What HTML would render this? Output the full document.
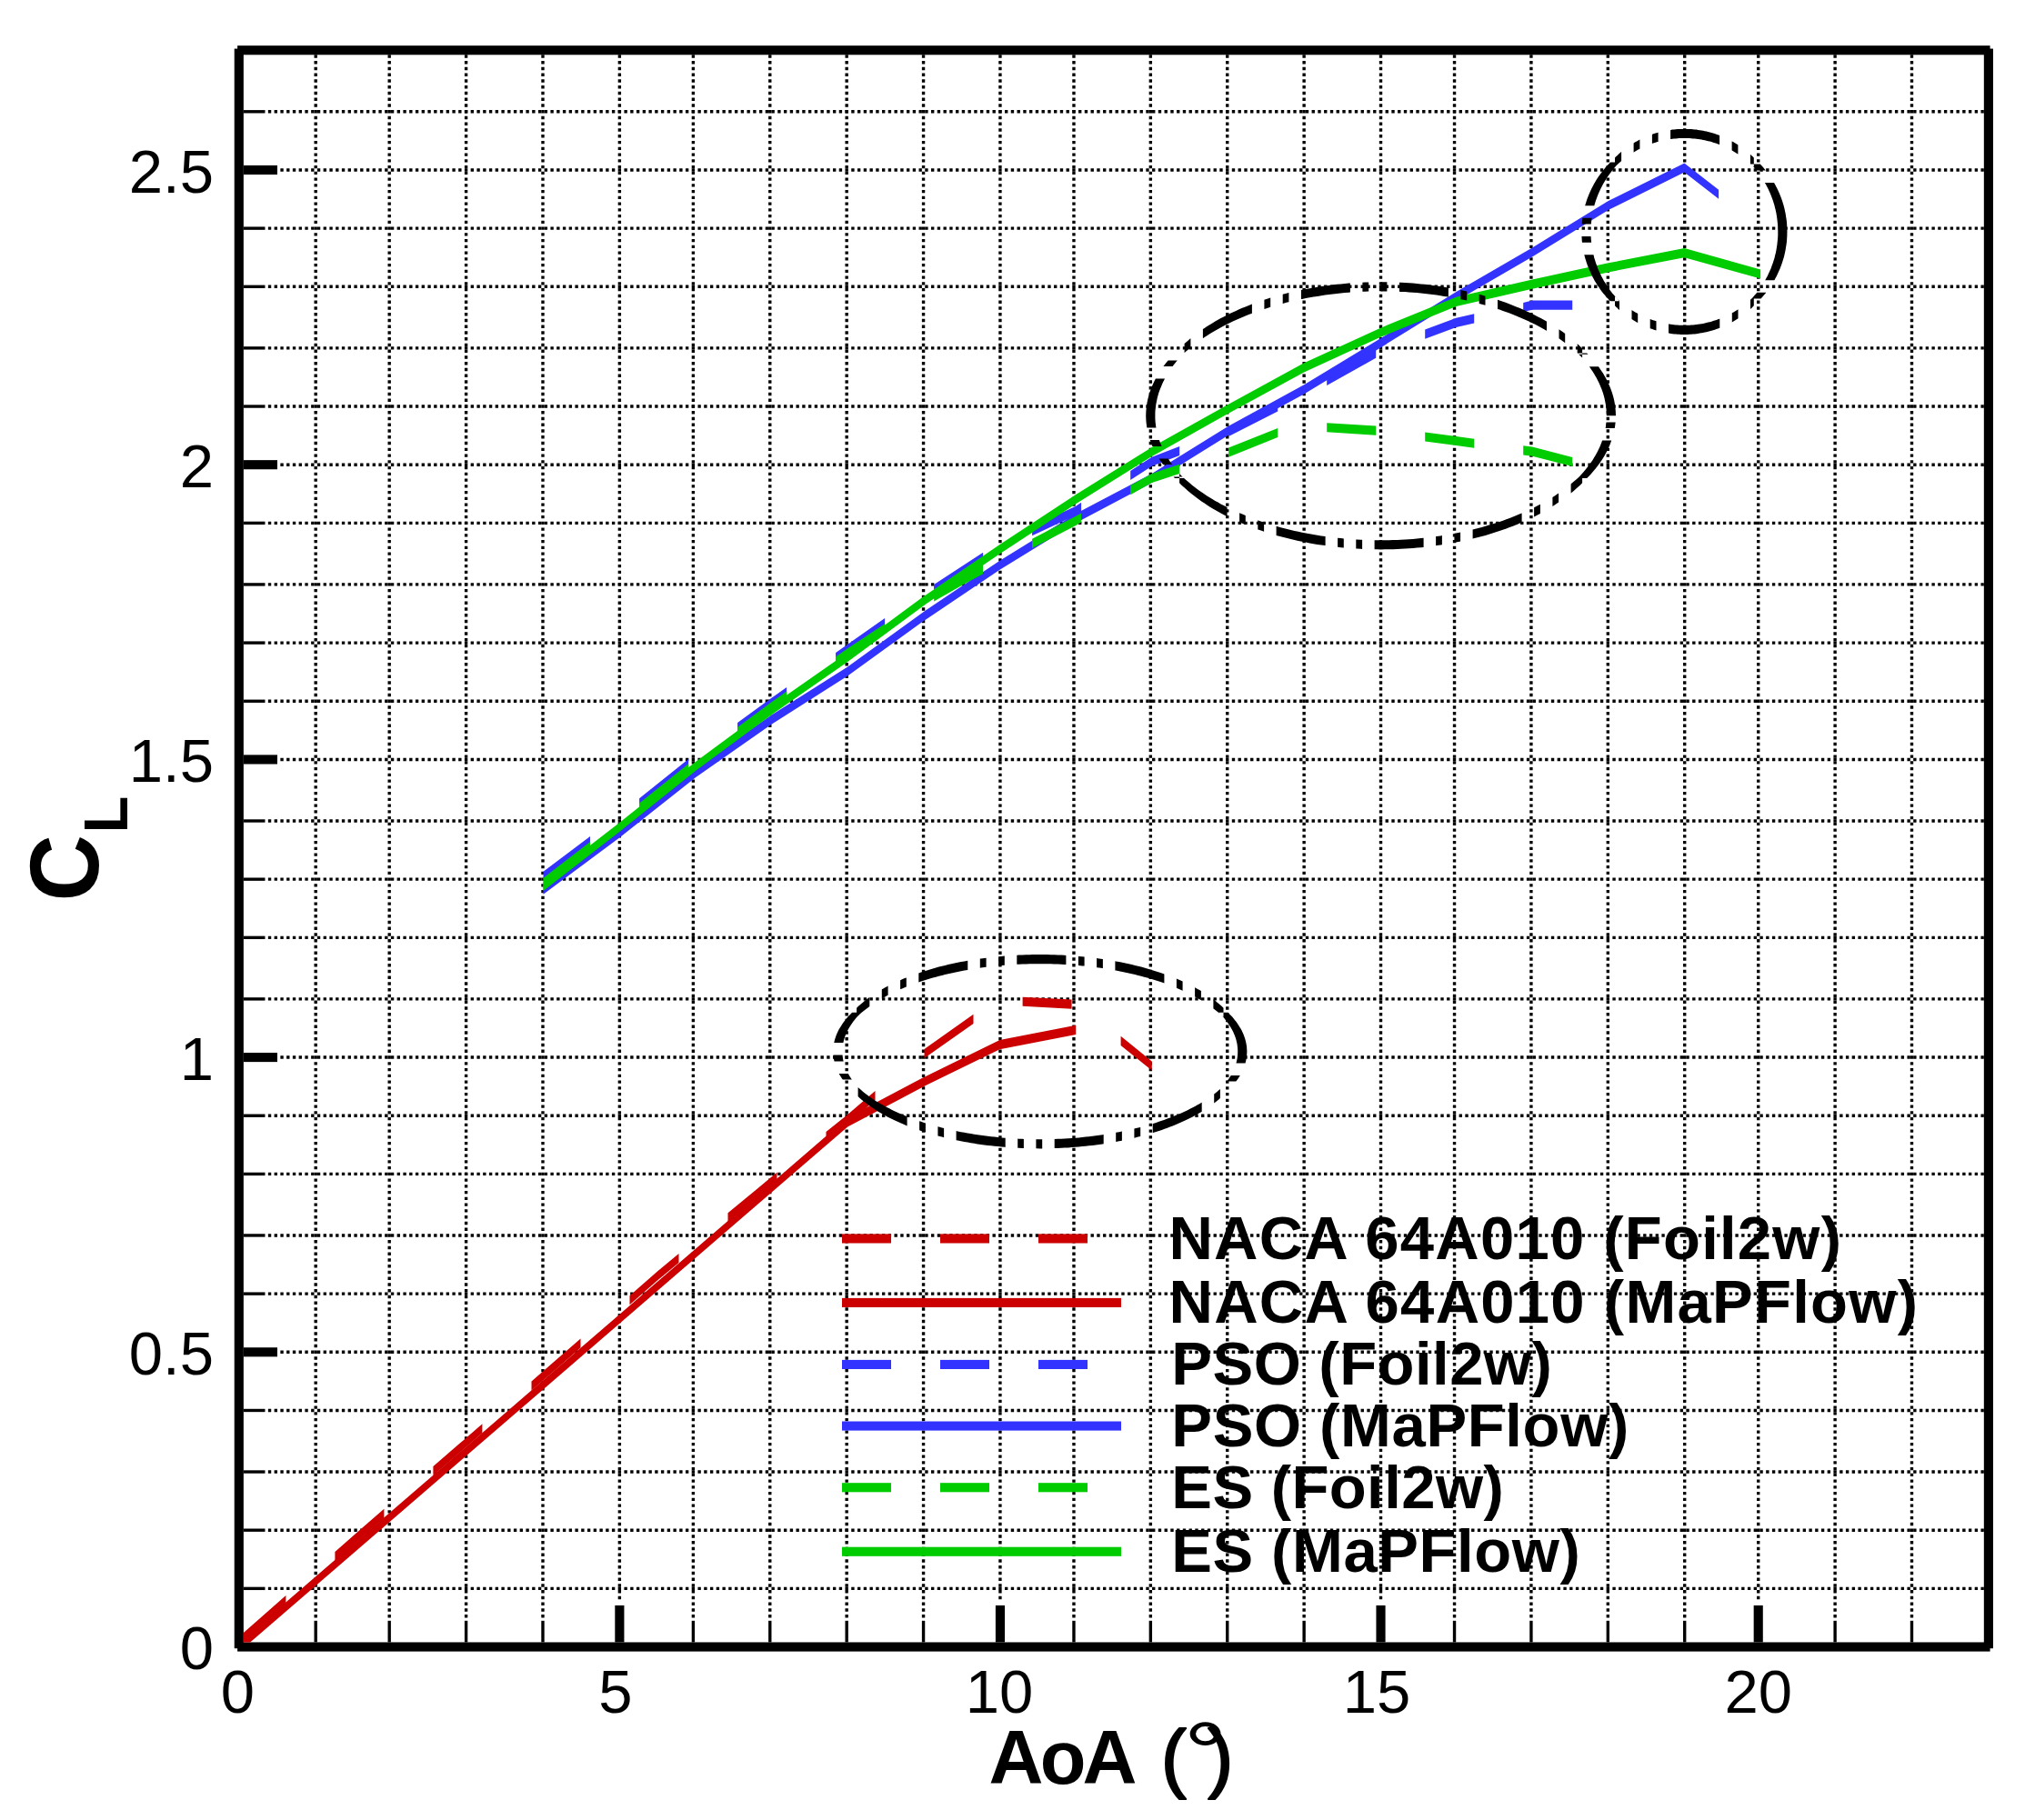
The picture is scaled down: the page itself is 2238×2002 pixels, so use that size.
<!DOCTYPE html>
<html lang="en"><head><meta charset="utf-8"><title>CL vs AoA</title>
<style>
html,body{margin:0;padding:0;background:#fff;}
body{width:2238px;height:2002px;overflow:hidden;}
svg{display:block;}
text{font-family:"Liberation Sans",Arial,Helvetica,sans-serif;fill:#000;}
.t{font-size:67px;}
.b{font-weight:bold;}
</style></head><body>
<svg width="2238" height="2002" viewBox="0 0 2238 2002">
<rect width="2238" height="2002" fill="#fff"/>
<g stroke="#000" fill="none">
<line x1="294.866" y1="1747.3662" x2="2181.8264" y2="1747.3662" stroke-width="3.3775" stroke-dasharray="3.3756 3.3756"/>
<line x1="294.866" y1="1683.1937" x2="2181.8264" y2="1683.1937" stroke-width="3.3775" stroke-dasharray="3.3756 3.3756"/>
<line x1="294.866" y1="1619.0213" x2="2181.8264" y2="1619.0213" stroke-width="3.3775" stroke-dasharray="3.3756 3.3756"/>
<line x1="294.866" y1="1551.4712" x2="2181.8264" y2="1551.4712" stroke-width="3.3775" stroke-dasharray="3.3756 3.3756"/>
<line x1="308.3684" y1="1487.2987" x2="2181.8264" y2="1487.2987" stroke-width="3.3775" stroke-dasharray="3.3756 3.3756"/>
<line x1="294.866" y1="1423.1263" x2="2181.8264" y2="1423.1263" stroke-width="3.3775" stroke-dasharray="3.3756 3.3756"/>
<line x1="294.866" y1="1358.9537" x2="2181.8264" y2="1358.9537" stroke-width="3.3775" stroke-dasharray="3.3756 3.3756"/>
<line x1="294.866" y1="1291.4037" x2="2181.8264" y2="1291.4037" stroke-width="3.3775" stroke-dasharray="3.3756 3.3756"/>
<line x1="294.866" y1="1227.2312" x2="2181.8264" y2="1227.2312" stroke-width="3.3775" stroke-dasharray="3.3756 3.3756"/>
<line x1="308.3684" y1="1163.0587" x2="2181.8264" y2="1163.0587" stroke-width="3.3775" stroke-dasharray="3.3756 3.3756"/>
<line x1="294.866" y1="1098.8863" x2="2181.8264" y2="1098.8863" stroke-width="3.3775" stroke-dasharray="3.3756 3.3756"/>
<line x1="294.866" y1="1031.3363" x2="2181.8264" y2="1031.3363" stroke-width="3.3775" stroke-dasharray="3.3756 3.3756"/>
<line x1="294.866" y1="967.1638" x2="2181.8264" y2="967.1638" stroke-width="3.3775" stroke-dasharray="3.3756 3.3756"/>
<line x1="294.866" y1="902.9913" x2="2181.8264" y2="902.9913" stroke-width="3.3775" stroke-dasharray="3.3756 3.3756"/>
<line x1="308.3684" y1="835.4413" x2="2181.8264" y2="835.4413" stroke-width="3.3775" stroke-dasharray="3.3756 3.3756"/>
<line x1="294.866" y1="771.2688" x2="2181.8264" y2="771.2688" stroke-width="3.3775" stroke-dasharray="3.3756 3.3756"/>
<line x1="294.866" y1="707.0963" x2="2181.8264" y2="707.0963" stroke-width="3.3775" stroke-dasharray="3.3756 3.3756"/>
<line x1="294.866" y1="642.9238" x2="2181.8264" y2="642.9238" stroke-width="3.3775" stroke-dasharray="3.3756 3.3756"/>
<line x1="294.866" y1="575.3737" x2="2181.8264" y2="575.3737" stroke-width="3.3775" stroke-dasharray="3.3756 3.3756"/>
<line x1="308.3684" y1="511.2012" x2="2181.8264" y2="511.2012" stroke-width="3.3775" stroke-dasharray="3.3756 3.3756"/>
<line x1="294.866" y1="447.0288" x2="2181.8264" y2="447.0288" stroke-width="3.3775" stroke-dasharray="3.3756 3.3756"/>
<line x1="294.866" y1="382.8563" x2="2181.8264" y2="382.8563" stroke-width="3.3775" stroke-dasharray="3.3756 3.3756"/>
<line x1="294.866" y1="315.3062" x2="2181.8264" y2="315.3062" stroke-width="3.3775" stroke-dasharray="3.3756 3.3756"/>
<line x1="294.866" y1="251.1337" x2="2181.8264" y2="251.1337" stroke-width="3.3775" stroke-dasharray="3.3756 3.3756"/>
<line x1="308.3684" y1="186.9612" x2="2181.8264" y2="186.9612" stroke-width="3.3775" stroke-dasharray="3.3756 3.3756"/>
<line x1="294.866" y1="122.7887" x2="2181.8264" y2="122.7887" stroke-width="3.3775" stroke-dasharray="3.3756 3.3756"/>
<line x1="347.1878" y1="60.305" x2="347.1878" y2="1779.4525" stroke-width="3.3756" stroke-dasharray="3.3775 3.3775"/>
<line x1="428.2022" y1="60.305" x2="428.2022" y2="1779.4525" stroke-width="3.3756" stroke-dasharray="3.3775 3.3775"/>
<line x1="512.5922" y1="60.305" x2="512.5922" y2="1779.4525" stroke-width="3.3756" stroke-dasharray="3.3775 3.3775"/>
<line x1="596.9822" y1="60.305" x2="596.9822" y2="1779.4525" stroke-width="3.3756" stroke-dasharray="3.3775 3.3775"/>
<line x1="681.3722" y1="60.305" x2="681.3722" y2="1762.565" stroke-width="3.3756" stroke-dasharray="3.3775 3.3775"/>
<line x1="762.3866" y1="60.305" x2="762.3866" y2="1779.4525" stroke-width="3.3756" stroke-dasharray="3.3775 3.3775"/>
<line x1="846.7766" y1="60.305" x2="846.7766" y2="1779.4525" stroke-width="3.3756" stroke-dasharray="3.3775 3.3775"/>
<line x1="931.1666" y1="60.305" x2="931.1666" y2="1779.4525" stroke-width="3.3756" stroke-dasharray="3.3775 3.3775"/>
<line x1="1015.5566" y1="60.305" x2="1015.5566" y2="1779.4525" stroke-width="3.3756" stroke-dasharray="3.3775 3.3775"/>
<line x1="1099.9466" y1="60.305" x2="1099.9466" y2="1762.565" stroke-width="3.3756" stroke-dasharray="3.3775 3.3775"/>
<line x1="1180.961" y1="60.305" x2="1180.961" y2="1779.4525" stroke-width="3.3756" stroke-dasharray="3.3775 3.3775"/>
<line x1="1265.351" y1="60.305" x2="1265.351" y2="1779.4525" stroke-width="3.3756" stroke-dasharray="3.3775 3.3775"/>
<line x1="1349.741" y1="60.305" x2="1349.741" y2="1779.4525" stroke-width="3.3756" stroke-dasharray="3.3775 3.3775"/>
<line x1="1434.131" y1="60.305" x2="1434.131" y2="1779.4525" stroke-width="3.3756" stroke-dasharray="3.3775 3.3775"/>
<line x1="1518.521" y1="60.305" x2="1518.521" y2="1762.565" stroke-width="3.3756" stroke-dasharray="3.3775 3.3775"/>
<line x1="1599.5354" y1="60.305" x2="1599.5354" y2="1779.4525" stroke-width="3.3756" stroke-dasharray="3.3775 3.3775"/>
<line x1="1683.9254" y1="60.305" x2="1683.9254" y2="1779.4525" stroke-width="3.3756" stroke-dasharray="3.3775 3.3775"/>
<line x1="1768.3154" y1="60.305" x2="1768.3154" y2="1779.4525" stroke-width="3.3756" stroke-dasharray="3.3775 3.3775"/>
<line x1="1852.7054" y1="60.305" x2="1852.7054" y2="1779.4525" stroke-width="3.3756" stroke-dasharray="3.3775 3.3775"/>
<line x1="1933.7198" y1="60.305" x2="1933.7198" y2="1762.565" stroke-width="3.3756" stroke-dasharray="3.3775 3.3775"/>
<line x1="2018.1098" y1="60.305" x2="2018.1098" y2="1779.4525" stroke-width="3.3756" stroke-dasharray="3.3775 3.3775"/>
<line x1="2102.4998" y1="60.305" x2="2102.4998" y2="1779.4525" stroke-width="3.3756" stroke-dasharray="3.3775 3.3775"/>
</g>
<g fill="#000">
<rect x="267.8612" y="1745.6775" width="23.6292" height="3.3775"/>
<rect x="267.8612" y="1681.505" width="23.6292" height="3.3775"/>
<rect x="267.8612" y="1617.3325" width="23.6292" height="3.3775"/>
<rect x="267.8612" y="1549.7825" width="23.6292" height="3.3775"/>
<rect x="267.8612" y="1482.2325" width="37.1316" height="10.1325"/>
<rect x="267.8612" y="1421.4375" width="23.6292" height="3.3775"/>
<rect x="267.8612" y="1357.265" width="23.6292" height="3.3775"/>
<rect x="267.8612" y="1289.715" width="23.6292" height="3.3775"/>
<rect x="267.8612" y="1225.5425" width="23.6292" height="3.3775"/>
<rect x="267.8612" y="1157.9925" width="37.1316" height="10.1325"/>
<rect x="267.8612" y="1097.1975" width="23.6292" height="3.3775"/>
<rect x="267.8612" y="1029.6475" width="23.6292" height="3.3775"/>
<rect x="267.8612" y="965.475" width="23.6292" height="3.3775"/>
<rect x="267.8612" y="901.3025" width="23.6292" height="3.3775"/>
<rect x="267.8612" y="830.375" width="37.1316" height="10.1325"/>
<rect x="267.8612" y="769.58" width="23.6292" height="3.3775"/>
<rect x="267.8612" y="705.4075" width="23.6292" height="3.3775"/>
<rect x="267.8612" y="641.235" width="23.6292" height="3.3775"/>
<rect x="267.8612" y="573.685" width="23.6292" height="3.3775"/>
<rect x="267.8612" y="506.135" width="37.1316" height="10.1325"/>
<rect x="267.8612" y="445.34" width="23.6292" height="3.3775"/>
<rect x="267.8612" y="381.1675" width="23.6292" height="3.3775"/>
<rect x="267.8612" y="313.6175" width="23.6292" height="3.3775"/>
<rect x="267.8612" y="249.445" width="23.6292" height="3.3775"/>
<rect x="267.8612" y="181.895" width="37.1316" height="10.1325"/>
<rect x="267.8612" y="121.1" width="23.6292" height="3.3775"/>
<rect x="345.5" y="1782.83" width="3.3756" height="23.6425"/>
<rect x="426.5144" y="1782.83" width="3.3756" height="23.6425"/>
<rect x="510.9044" y="1782.83" width="3.3756" height="23.6425"/>
<rect x="595.2944" y="1782.83" width="3.3756" height="23.6425"/>
<rect x="676.3088" y="1765.9425" width="10.1268" height="40.53"/>
<rect x="760.6988" y="1782.83" width="3.3756" height="23.6425"/>
<rect x="845.0888" y="1782.83" width="3.3756" height="23.6425"/>
<rect x="929.4788" y="1782.83" width="3.3756" height="23.6425"/>
<rect x="1013.8688" y="1782.83" width="3.3756" height="23.6425"/>
<rect x="1094.8832" y="1765.9425" width="10.1268" height="40.53"/>
<rect x="1179.2732" y="1782.83" width="3.3756" height="23.6425"/>
<rect x="1263.6632" y="1782.83" width="3.3756" height="23.6425"/>
<rect x="1348.0532" y="1782.83" width="3.3756" height="23.6425"/>
<rect x="1432.4432" y="1782.83" width="3.3756" height="23.6425"/>
<rect x="1513.4576" y="1765.9425" width="10.1268" height="40.53"/>
<rect x="1597.8476" y="1782.83" width="3.3756" height="23.6425"/>
<rect x="1682.2376" y="1782.83" width="3.3756" height="23.6425"/>
<rect x="1766.6276" y="1782.83" width="3.3756" height="23.6425"/>
<rect x="1851.0176" y="1782.83" width="3.3756" height="23.6425"/>
<rect x="1928.6564" y="1765.9425" width="10.1268" height="40.53"/>
<rect x="2016.422" y="1782.83" width="3.3756" height="23.6425"/>
<rect x="2100.812" y="1782.83" width="3.3756" height="23.6425"/>
<rect x="257.7344" y="53.55" width="10.1268" height="1759.6775"/>
<rect x="2181.8264" y="53.55" width="10.1268" height="1759.6775"/>
<rect x="261.11" y="50.1725" width="1927.4676" height="10.1325"/>
<rect x="261.11" y="1806.4725" width="1927.4676" height="10.1325"/>
</g>
<clipPath id="plot"><rect x="267.9" y="60.3" width="1914" height="1746.2"/></clipPath>
<g stroke="none" clip-path="url(#plot)">
<path fill="#cc0000" d="M262.9,1800.4L314.4,1755L314.4,1765.1L262.9,1810.6ZM368.4,1707.1L396.8,1682L396.8,1692.1L368.4,1717.2ZM396.8,1682L422.4,1659.7L422.4,1669.9L396.8,1692.1ZM476.4,1613L505.5,1587.8L505.5,1597.9L476.4,1623.1ZM505.5,1587.8L530.4,1566.2L530.4,1576.3L505.5,1597.9ZM584.5,1519.4L614.3,1493.6L614.3,1503.7L584.5,1529.5ZM614.3,1493.6L638.5,1472.4L638.5,1482.5L614.3,1503.7ZM692.5,1425.2L723,1398.4L723,1408.5L692.5,1435.3ZM723,1398.4L746.5,1379L746.5,1389.1L723,1408.5ZM800.5,1334.3L831.8,1308.5L831.8,1318.6L800.5,1344.5ZM831.8,1308.5L854.5,1289.6L854.5,1299.8L831.8,1318.6ZM908.5,1245.1L932.2,1226L932.2,1236.2L908.5,1255.2ZM932.2,1226L962.5,1200.1L962.5,1210.2L932.2,1236.2ZM1016.5,1154L1070.5,1115.8L1070.5,1125.9L1016.5,1164.1ZM1124.6,1096.7L1178.6,1099.6L1178.6,1109.7L1124.6,1106.8ZM1232.6,1139.8L1266.8,1167.5L1266.8,1177.6L1232.6,1149.9Z"/>
<path fill="#cc0000" d="M262.9,1806.9L932.2,1229.3L1015.8,1185.1L1099.5,1144.1L1183.2,1127.8L1183.2,1137.9L1099.5,1154.2L1015.8,1195.2L932.2,1239.4L262.9,1817.1Z"/>
<path fill="#3333ff" d="M597.5,958.7L649,920L649,930.1L597.5,968.8ZM703.1,878.3L757.1,835.1L757.1,845.3L703.1,888.4ZM811.1,795.1L848.5,767.8L848.5,777.9L811.1,805.3ZM848.5,767.8L865.1,756.1L865.1,766.2L848.5,777.9ZM919.1,717.9L932.2,708.7L932.2,718.8L919.1,728.1ZM932.2,708.7L973.1,680.1L973.1,690.2L932.2,718.8ZM1027.1,642.9L1081.1,607.8L1081.1,617.9L1027.1,653ZM1135.1,579.2L1183.2,556.7L1183.2,566.8L1135.1,589.3ZM1183.2,556.7L1189.1,552.8L1189.1,562.9L1183.2,566.8ZM1243.2,518L1266.8,502.7L1266.8,512.8L1243.2,528.1ZM1266.8,502.7L1297.2,490.9L1297.2,501L1266.8,512.8ZM1351.2,469.8L1405.2,442.5L1405.2,452.6L1351.2,479.9ZM1459.2,413.9L1513.2,383.6L1513.2,393.7L1459.2,424ZM1567.2,362.6L1601.5,349.8L1601.5,359.9L1567.2,372.7ZM1601.5,349.8L1621.2,345.3L1621.2,355.4L1601.5,359.9ZM1675.2,332.9L1685.1,330.6L1685.1,340.8L1675.2,343ZM1685.1,330.6L1729.2,330.6L1729.2,340.8L1685.1,340.8Z"/>
<path fill="#3333ff" d="M597.5,973.6L681.2,911.4L764.9,845.2L848.5,786.6L932.2,733.4L1015.8,673L1099.5,616.7L1183.2,565.1L1266.8,520.9L1350.5,468.9L1434.1,423.3L1517.8,372.6L1601.5,320.9L1685.1,272.4L1768.8,221L1852.4,179.4L1890.1,208.7L1890.1,218.8L1852.4,189.5L1768.8,231.1L1685.1,282.5L1601.5,331L1517.8,382.7L1434.1,433.4L1350.5,479L1266.8,531L1183.2,575.3L1099.5,626.8L1015.8,683.1L932.2,743.5L848.5,796.8L764.9,855.3L681.2,921.5L597.5,983.8Z"/>
<path fill="#00cc00" d="M597.5,965.8L649,925.9L649,936L597.5,976ZM703.1,883.5L757.1,840.3L757.1,850.5L703.1,893.6ZM811.1,800L848.5,772.3L848.5,782.4L811.1,810.1ZM848.5,772.3L865.1,760.6L865.1,770.7L848.5,782.4ZM919.1,722.5L932.2,713.3L932.2,723.4L919.1,732.6ZM932.2,713.3L973.1,686.2L973.1,696.4L932.2,723.4ZM1027.1,651.5L1057.7,633.8L1057.7,643.9L1027.1,661.6ZM1057.7,633.8L1081.1,621.2L1081.1,631.3L1057.7,643.9ZM1135.1,592.8L1183.2,567.7L1183.2,577.9L1135.1,602.9ZM1183.2,567.7L1189.1,564.4L1189.1,574.5L1183.2,577.9ZM1243.2,534.1L1266.8,520.9L1266.8,531L1243.2,544.3ZM1266.8,520.9L1297.2,510.8L1297.2,520.9L1266.8,531ZM1351.2,492.6L1405.2,471L1405.2,481.1L1351.2,502.8ZM1459.2,465.2L1513.2,468.6L1513.2,478.7L1459.2,475.3ZM1567.2,475.4L1601.5,479.9L1601.5,490L1567.2,485.5ZM1601.5,479.9L1621.2,482.7L1621.2,492.8L1601.5,490ZM1675.2,490.2L1685.1,491.6L1685.1,501.8L1675.2,500.4ZM1685.1,491.6L1729.2,502.9L1729.2,513L1685.1,501.8Z"/>
<path fill="#00cc00" d="M597.5,969.7L681.2,904.9L764.9,838L848.5,776.2L932.2,717.8L1015.8,656.1L1099.5,599.1L1183.2,544.1L1266.8,491.9L1350.5,445L1434.1,399.3L1517.8,360.9L1601.5,326.7L1685.1,307.5L1768.8,289.3L1852.4,273.1L1936.1,296.5L1936.1,306.6L1852.4,283.2L1768.8,299.4L1685.1,317.7L1601.5,336.9L1517.8,371L1434.1,409.4L1350.5,455.1L1266.8,502L1183.2,554.2L1099.5,609.2L1015.8,666.2L932.2,727.9L848.5,786.3L764.9,848.1L681.2,915L597.5,979.9Z"/>
</g>
<g fill="#000" stroke="none">
<path d="M1361.2,1156.7L1361.2,1154.9L1371.3,1154.9L1371.4,1156.7ZM1361.2,1154.9L1361.1,1153.2L1371.2,1153.2L1371.3,1154.9ZM1361.1,1153.2L1360.9,1151.4L1371.1,1151.4L1371.2,1153.2ZM1360.9,1151.4L1360.7,1149.6L1370.8,1149.6L1371.1,1151.4ZM1360.7,1149.6L1360.4,1147.8L1370.5,1147.8L1370.8,1149.6ZM1360.4,1147.8L1360,1146.1L1370.1,1146.1L1370.5,1147.8ZM1360,1146.1L1359.6,1144.3L1369.7,1144.3L1370.1,1146.1ZM1359.6,1144.3L1359.1,1142.6L1369.2,1142.6L1369.7,1144.3ZM1359.1,1142.6L1358.5,1140.8L1368.6,1140.8L1369.2,1142.6ZM1358.5,1140.8L1357.9,1139.1L1368,1139.1L1368.6,1140.8ZM1357.9,1139.1L1357.1,1137.3L1367.3,1137.3L1368,1139.1ZM1357.1,1137.3L1356.4,1135.6L1366.5,1135.6L1367.3,1137.3ZM1356.4,1135.6L1355.5,1133.8L1365.7,1133.8L1366.5,1135.6ZM1355.5,1133.8L1354.6,1132.1L1364.8,1132.1L1365.7,1133.8ZM1354.6,1132.1L1353.7,1130.4L1363.8,1130.4L1364.8,1132.1ZM1353.7,1130.4L1352.6,1128.7L1362.7,1128.7L1363.8,1130.4ZM1352.6,1128.7L1351.5,1127L1361.6,1127L1362.7,1128.7ZM1351.5,1127L1350.3,1125.3L1360.5,1125.3L1361.6,1127ZM1350.3,1125.3L1349.1,1123.6L1359.2,1123.6L1360.5,1125.3ZM1349.1,1123.6L1347.8,1122L1357.9,1122L1359.2,1123.6ZM1347.8,1122L1346.5,1120.3L1356.6,1120.3L1357.9,1122ZM1346.5,1120.3L1345,1118.6L1355.2,1118.6L1356.6,1120.3ZM1345,1118.6L1343.5,1117L1353.7,1117L1355.2,1118.6ZM1343.5,1117L1342,1115.4L1352.1,1115.4L1353.7,1117ZM1342,1115.4L1340.4,1113.8L1350.5,1113.8L1352.1,1115.4ZM1345.5,1108.7L1343.8,1107.1L1343.8,1117.2L1345.5,1118.8ZM1343.8,1107.1L1342,1105.5L1342,1115.6L1343.8,1117.2ZM1342,1105.5L1340.3,1103.9L1340.3,1114.1L1342,1115.6ZM1340.3,1103.9L1338.4,1102.4L1338.4,1112.5L1340.3,1114.1ZM1338.4,1102.4L1336.5,1100.8L1336.5,1111L1338.4,1112.5ZM1336.5,1100.8L1334.5,1099.3L1334.5,1109.4L1336.5,1111ZM1334.5,1099.3L1334.4,1099.2L1334.4,1109.3L1334.5,1109.4ZM1320.9,1090.1L1319.1,1089.1L1319.1,1099.2L1320.9,1100.3ZM1319.1,1089.1L1316.7,1087.7L1316.7,1097.8L1319.1,1099.2ZM1316.7,1087.7L1314.2,1086.3L1314.2,1096.5L1316.7,1097.8ZM1314.2,1086.3L1314.1,1086.3L1314.1,1096.4L1314.2,1096.5ZM1300.6,1079.6L1298.4,1078.6L1298.4,1088.7L1300.6,1089.7ZM1298.4,1078.6L1295.5,1077.3L1295.5,1087.5L1298.4,1088.7ZM1295.5,1077.3L1293.9,1076.6L1293.9,1086.8L1295.5,1087.5ZM1280.4,1071.4L1277.7,1070.5L1277.7,1080.6L1280.4,1081.6ZM1277.7,1070.5L1274.6,1069.4L1274.6,1079.6L1277.7,1080.6ZM1274.6,1069.4L1271.4,1068.4L1271.4,1078.5L1274.6,1079.6ZM1271.4,1068.4L1268.2,1067.4L1268.2,1077.5L1271.4,1078.5ZM1268.2,1067.4L1265,1066.4L1265,1076.6L1268.2,1077.5ZM1265,1066.4L1261.7,1065.5L1261.7,1075.6L1265,1076.6ZM1261.7,1065.5L1258.4,1064.5L1258.4,1074.7L1261.7,1075.6ZM1258.4,1064.5L1255,1063.6L1255,1073.8L1258.4,1074.7ZM1255,1063.6L1251.7,1062.8L1251.7,1072.9L1255,1073.8ZM1251.7,1062.8L1248.3,1061.9L1248.3,1072.1L1251.7,1072.9ZM1248.3,1061.9L1244.8,1061.1L1244.8,1071.2L1248.3,1072.1ZM1244.8,1061.1L1241.3,1060.3L1241.3,1070.4L1244.8,1071.2ZM1241.3,1060.3L1237.8,1059.6L1237.8,1069.7L1241.3,1070.4ZM1237.8,1059.6L1234.3,1058.8L1234.3,1068.9L1237.8,1069.7ZM1234.3,1058.8L1230.7,1058.1L1230.7,1068.2L1234.3,1068.9ZM1230.7,1058.1L1227.1,1057.4L1227.1,1067.6L1230.7,1068.2ZM1227.1,1057.4L1226.4,1057.3L1226.4,1067.4L1227.1,1067.6ZM1212.9,1055.1L1212.6,1055L1212.6,1065.1L1212.9,1065.2ZM1212.6,1055L1208.9,1054.5L1208.9,1064.6L1212.6,1065.1ZM1208.9,1054.5L1206.1,1054.1L1206.1,1064.2L1208.9,1064.6ZM1192.6,1052.5L1190.1,1052.3L1190.1,1062.4L1192.6,1062.6ZM1190.1,1052.3L1186.3,1051.9L1186.3,1062L1190.1,1062.4ZM1186.3,1051.9L1185.9,1051.9L1185.9,1062L1186.3,1062ZM1172.4,1050.9L1170.9,1050.8L1170.9,1060.9L1172.4,1061ZM1170.9,1050.8L1167.1,1050.6L1167.1,1060.7L1170.9,1060.9ZM1167.1,1050.6L1163.2,1050.4L1163.2,1060.6L1167.1,1060.7ZM1163.2,1050.4L1159.3,1050.3L1159.3,1060.4L1163.2,1060.6ZM1159.3,1050.3L1155.4,1050.2L1155.4,1060.3L1159.3,1060.4ZM1155.4,1050.2L1151.6,1050.1L1151.6,1060.2L1155.4,1060.3ZM1151.6,1050.1L1147.7,1050.1L1147.7,1060.2L1151.6,1060.2ZM1147.7,1050.1L1143.8,1050L1143.8,1060.2L1147.7,1060.2ZM1143.8,1050L1139.9,1050.1L1139.9,1060.2L1143.8,1060.2ZM1139.9,1050.1L1136,1050.1L1136,1060.2L1139.9,1060.2ZM1136,1050.1L1132.2,1050.2L1132.2,1060.3L1136,1060.2ZM1132.2,1050.2L1128.3,1050.3L1128.3,1060.4L1132.2,1060.3ZM1128.3,1050.3L1124.4,1050.4L1124.4,1060.6L1128.3,1060.4ZM1124.4,1050.4L1120.5,1050.6L1120.5,1060.7L1124.4,1060.6ZM1120.5,1050.6L1118.3,1050.7L1118.3,1060.8L1120.5,1060.7ZM1104.8,1051.6L1101.3,1051.9L1101.3,1062L1104.8,1061.7ZM1101.3,1051.9L1098.1,1052.2L1098.1,1062.3L1101.3,1062ZM1084.6,1053.7L1082.5,1054L1082.5,1064.1L1084.6,1063.8ZM1082.5,1054L1078.7,1054.5L1078.7,1064.6L1082.5,1064.1ZM1078.7,1054.5L1077.8,1054.6L1077.8,1064.7L1078.7,1064.6ZM1064.3,1056.7L1064.1,1056.8L1064.1,1066.9L1064.3,1066.9ZM1064.1,1056.8L1060.5,1057.4L1060.5,1067.6L1064.1,1066.9ZM1060.5,1057.4L1056.9,1058.1L1056.9,1068.2L1060.5,1067.6ZM1056.9,1058.1L1053.3,1058.8L1053.3,1068.9L1056.9,1068.2ZM1053.3,1058.8L1049.8,1059.6L1049.8,1069.7L1053.3,1068.9ZM1049.8,1059.6L1046.3,1060.3L1046.3,1070.4L1049.8,1069.7ZM1046.3,1060.3L1042.8,1061.1L1042.8,1071.2L1046.3,1070.4ZM1042.8,1061.1L1039.3,1061.9L1039.3,1072.1L1042.8,1071.2ZM1039.3,1061.9L1035.9,1062.8L1035.9,1072.9L1039.3,1072.1ZM1035.9,1062.8L1032.5,1063.6L1032.5,1073.8L1035.9,1072.9ZM1032.5,1063.6L1029.2,1064.5L1029.2,1074.7L1032.5,1073.8ZM1029.2,1064.5L1025.9,1065.5L1025.9,1075.6L1029.2,1074.7ZM1025.9,1065.5L1022.6,1066.4L1022.6,1076.6L1025.9,1075.6ZM1022.6,1066.4L1019.4,1067.4L1019.4,1077.5L1022.6,1076.6ZM1019.4,1067.4L1016.2,1068.4L1016.2,1078.5L1019.4,1077.5ZM1016.2,1068.4L1013,1069.4L1013,1079.6L1016.2,1078.5ZM1013,1069.4L1010.3,1070.4L1010.3,1080.5L1013,1079.6ZM996.8,1075.4L994.9,1076.1L994.9,1086.3L996.8,1085.5ZM994.9,1076.1L992.1,1077.3L992.1,1087.5L994.9,1086.3ZM992.1,1077.3L990.1,1078.2L990.1,1088.3L992.1,1087.5ZM976.6,1084.6L975.9,1085L975.9,1095.1L976.6,1094.8ZM975.9,1085L973.4,1086.3L973.4,1096.5L975.9,1095.1ZM973.4,1086.3L970.9,1087.7L970.9,1097.8L973.4,1096.5ZM970.9,1087.7L969.8,1088.3L969.8,1098.4L970.9,1097.8ZM956.3,1096.9L955.1,1097.8L955.1,1107.9L956.3,1107.1ZM955.1,1097.8L953.1,1099.3L953.1,1109.4L955.1,1107.9ZM953.1,1099.3L951.1,1100.8L951.1,1111L953.1,1109.4ZM951.1,1100.8L949.2,1102.4L949.2,1112.5L951.1,1111ZM949.2,1102.4L947.3,1103.9L947.3,1114.1L949.2,1112.5ZM947.3,1103.9L945.6,1105.5L945.6,1115.6L947.3,1114.1ZM945.6,1105.5L943.8,1107.1L943.8,1117.2L945.6,1115.6ZM943.8,1107.1L942.1,1108.7L942.1,1118.8L943.8,1117.2ZM937.1,1113.8L935.5,1115.4L945.6,1115.4L947.2,1113.8ZM935.5,1115.4L933.9,1117L944.1,1117L945.6,1115.4ZM933.9,1117L932.4,1118.6L942.6,1118.6L944.1,1117ZM932.4,1118.6L931,1120.3L941.1,1120.3L942.6,1118.6ZM931,1120.3L929.7,1122L939.8,1122L941.1,1120.3ZM929.7,1122L928.4,1123.6L938.5,1123.6L939.8,1122ZM928.4,1123.6L927.1,1125.3L937.3,1125.3L938.5,1123.6ZM927.1,1125.3L926,1127L936.1,1127L937.3,1125.3ZM926,1127L924.9,1128.7L935,1128.7L936.1,1127ZM924.9,1128.7L923.8,1130.4L933.9,1130.4L935,1128.7ZM923.8,1130.4L922.8,1132.1L933,1132.1L933.9,1130.4ZM922.8,1132.1L921.9,1133.8L932.1,1133.8L933,1132.1ZM921.9,1133.8L921.1,1135.6L931.2,1135.6L932.1,1133.8ZM921.1,1135.6L920.3,1137.3L930.5,1137.3L931.2,1135.6ZM920.3,1137.3L919.6,1139.1L929.7,1139.1L930.5,1137.3ZM919.6,1139.1L919,1140.8L929.1,1140.8L929.7,1139.1ZM919,1140.8L918.4,1142.6L928.5,1142.6L929.1,1140.8ZM918.4,1142.6L917.9,1144.3L928,1144.3L928.5,1142.6ZM917.9,1144.3L917.5,1146.1L927.6,1146.1L928,1144.3ZM917.5,1146.1L917.2,1147.1L927.4,1147.1L927.6,1146.1ZM916.4,1160.6L916.5,1162L926.7,1162L926.5,1160.6ZM916.5,1162L916.8,1163.8L926.9,1163.8L926.7,1162ZM916.8,1163.8L917.1,1165.6L927.2,1165.6L926.9,1163.8ZM917.1,1165.6L917.5,1167.3L927.6,1167.3L927.2,1165.6ZM917.5,1167.3L917.5,1167.4L927.6,1167.4L927.6,1167.3ZM922.6,1180.9L922.8,1181.3L933,1181.3L932.8,1180.9ZM922.8,1181.3L923.8,1183L933.9,1183L933,1181.3ZM923.8,1183L924.9,1184.7L935,1184.7L933.9,1183ZM924.9,1184.7L926,1186.4L936.1,1186.4L935,1184.7ZM926,1186.4L926.8,1187.6L936.9,1187.6L936.1,1186.4ZM943.6,1196L943.8,1196.2L943.8,1206.3L943.6,1206.1ZM943.8,1196.2L945.6,1197.8L945.6,1207.9L943.8,1206.3ZM945.6,1197.8L947.3,1199.3L947.3,1209.5L945.6,1207.9ZM947.3,1199.3L949.2,1200.9L949.2,1211L947.3,1209.5ZM949.2,1200.9L951.1,1202.4L951.1,1212.6L949.2,1211ZM951.1,1202.4L953.1,1204L953.1,1214.1L951.1,1212.6ZM953.1,1204L955.1,1205.5L955.1,1215.6L953.1,1214.1ZM955.1,1205.5L957.2,1207L957.2,1217.1L955.1,1215.6ZM957.2,1207L959.3,1208.5L959.3,1218.6L957.2,1217.1ZM959.3,1208.5L961.5,1209.9L961.5,1220L959.3,1218.6ZM961.5,1209.9L963.8,1211.4L963.8,1221.5L961.5,1220ZM963.8,1211.4L966.1,1212.8L966.1,1222.9L963.8,1221.5ZM966.1,1212.8L968.5,1214.2L968.5,1224.3L966.1,1222.9ZM968.5,1214.2L970.9,1215.6L970.9,1225.7L968.5,1224.3ZM970.9,1215.6L973.4,1216.9L973.4,1227.1L970.9,1225.7ZM973.4,1216.9L975.9,1218.3L975.9,1228.4L973.4,1227.1ZM975.9,1218.3L978.5,1219.6L978.5,1229.7L975.9,1228.4ZM978.5,1219.6L981.1,1220.9L981.1,1231.1L978.5,1229.7ZM981.1,1220.9L983.7,1222.2L983.7,1232.3L981.1,1231.1ZM983.7,1222.2L986.5,1223.5L986.5,1233.6L983.7,1232.3ZM986.5,1223.5L989.2,1224.7L989.2,1234.8L986.5,1233.6ZM989.2,1224.7L992.1,1225.9L992.1,1236.1L989.2,1234.8ZM992.1,1225.9L994.9,1227.1L994.9,1237.3L992.1,1236.1ZM994.9,1227.1L997.6,1228.2L997.6,1238.4L994.9,1237.3ZM1011.1,1233.2L1013,1233.8L1013,1244L1011.1,1243.3ZM1013,1233.8L1016.2,1234.9L1016.2,1245L1013,1244ZM1016.2,1234.9L1017.9,1235.4L1017.9,1245.5L1016.2,1245ZM1031.4,1239.3L1032.5,1239.6L1032.5,1249.8L1031.4,1249.4ZM1032.5,1239.6L1035.9,1240.5L1035.9,1250.6L1032.5,1249.8ZM1035.9,1240.5L1038.1,1241L1038.1,1251.2L1035.9,1250.6ZM1051.6,1244.1L1053.3,1244.5L1053.3,1254.6L1051.6,1254.2ZM1053.3,1244.5L1056.9,1245.2L1056.9,1255.3L1053.3,1254.6ZM1056.9,1245.2L1060.5,1245.8L1060.5,1256L1056.9,1255.3ZM1060.5,1245.8L1064.1,1246.5L1064.1,1256.6L1060.5,1256ZM1064.1,1246.5L1067.7,1247.1L1067.7,1257.2L1064.1,1256.6ZM1067.7,1247.1L1071.4,1247.7L1071.4,1257.8L1067.7,1257.2ZM1071.4,1247.7L1075,1248.3L1075,1258.4L1071.4,1257.8ZM1075,1248.3L1078.7,1248.8L1078.7,1258.9L1075,1258.4ZM1078.7,1248.8L1082.5,1249.3L1082.5,1259.4L1078.7,1258.9ZM1082.5,1249.3L1086.2,1249.8L1086.2,1259.9L1082.5,1259.4ZM1086.2,1249.8L1090,1250.2L1090,1260.3L1086.2,1259.9ZM1090,1250.2L1093.7,1250.6L1093.7,1260.8L1090,1260.3ZM1093.7,1250.6L1097.5,1251L1097.5,1261.1L1093.7,1260.8ZM1097.5,1251L1101.3,1251.4L1101.3,1261.5L1097.5,1261.1ZM1101.3,1251.4L1105.2,1251.7L1105.2,1261.8L1101.3,1261.5ZM1105.2,1251.7L1105.7,1251.7L1105.7,1261.9L1105.2,1261.8ZM1119.2,1252.6L1120.5,1252.7L1120.5,1262.8L1119.2,1262.7ZM1120.5,1252.7L1124.4,1252.8L1124.4,1263L1120.5,1262.8ZM1124.4,1252.8L1125.9,1252.9L1125.9,1263L1124.4,1263ZM1139.4,1253.2L1139.9,1253.2L1139.9,1263.3L1139.4,1263.3ZM1139.9,1253.2L1143.8,1253.2L1143.8,1263.4L1139.9,1263.3ZM1143.8,1253.2L1146.2,1253.2L1146.2,1263.4L1143.8,1263.4ZM1159.7,1253L1163.2,1252.8L1163.2,1263L1159.7,1263.1ZM1163.2,1252.8L1167.1,1252.7L1167.1,1262.8L1163.2,1263ZM1167.1,1252.7L1170.9,1252.5L1170.9,1262.6L1167.1,1262.8ZM1170.9,1252.5L1174.8,1252.2L1174.8,1262.4L1170.9,1262.6ZM1174.8,1252.2L1178.6,1252L1178.6,1262.1L1174.8,1262.4ZM1178.6,1252L1182.4,1251.7L1182.4,1261.8L1178.6,1262.1ZM1182.4,1251.7L1186.3,1251.4L1186.3,1261.5L1182.4,1261.8ZM1186.3,1251.4L1190.1,1251L1190.1,1261.1L1186.3,1261.5ZM1190.1,1251L1193.9,1250.6L1193.9,1260.8L1190.1,1261.1ZM1193.9,1250.6L1197.6,1250.2L1197.6,1260.3L1193.9,1260.8ZM1197.6,1250.2L1201.4,1249.8L1201.4,1259.9L1197.6,1260.3ZM1201.4,1249.8L1205.1,1249.3L1205.1,1259.4L1201.4,1259.9ZM1205.1,1249.3L1208.9,1248.8L1208.9,1258.9L1205.1,1259.4ZM1208.9,1248.8L1212.6,1248.3L1212.6,1258.4L1208.9,1258.9ZM1212.6,1248.3L1213.7,1248.1L1213.7,1258.2L1212.6,1258.4ZM1227.2,1245.8L1230.7,1245.2L1230.7,1255.3L1227.2,1256ZM1230.7,1245.2L1233.9,1244.5L1233.9,1254.7L1230.7,1255.3ZM1247.4,1241.5L1248.3,1241.3L1248.3,1251.5L1247.4,1251.7ZM1248.3,1241.3L1251.7,1240.5L1251.7,1250.6L1248.3,1251.5ZM1251.7,1240.5L1254.2,1239.9L1254.2,1250L1251.7,1250.6ZM1267.7,1236L1268.2,1235.9L1268.2,1246L1267.7,1246.2ZM1268.2,1235.9L1271.4,1234.9L1271.4,1245L1268.2,1246ZM1271.4,1234.9L1274.6,1233.8L1274.6,1244L1271.4,1245ZM1274.6,1233.8L1277.7,1232.8L1277.7,1242.9L1274.6,1244ZM1277.7,1232.8L1280.8,1231.7L1280.8,1241.8L1277.7,1242.9ZM1280.8,1231.7L1283.8,1230.6L1283.8,1240.7L1280.8,1241.8ZM1283.8,1230.6L1286.8,1229.5L1286.8,1239.6L1283.8,1240.7ZM1286.8,1229.5L1289.8,1228.3L1289.8,1238.4L1286.8,1239.6ZM1289.8,1228.3L1292.7,1227.1L1292.7,1237.3L1289.8,1238.4ZM1292.7,1227.1L1295.5,1225.9L1295.5,1236.1L1292.7,1237.3ZM1295.5,1225.9L1298.4,1224.7L1298.4,1234.8L1295.5,1236.1ZM1298.4,1224.7L1301.1,1223.5L1301.1,1233.6L1298.4,1234.8ZM1301.1,1223.5L1303.9,1222.2L1303.9,1232.3L1301.1,1233.6ZM1303.9,1222.2L1306.5,1220.9L1306.5,1231.1L1303.9,1232.3ZM1306.5,1220.9L1309.1,1219.6L1309.1,1229.7L1306.5,1231.1ZM1309.1,1219.6L1311.7,1218.3L1311.7,1228.4L1309.1,1229.7ZM1311.7,1218.3L1314.2,1216.9L1314.2,1227.1L1311.7,1228.4ZM1314.2,1216.9L1316.7,1215.6L1316.7,1225.7L1314.2,1227.1ZM1316.7,1215.6L1319.1,1214.2L1319.1,1224.3L1316.7,1225.7ZM1319.1,1214.2L1321.5,1212.8L1321.5,1222.9L1319.1,1224.3ZM1321.5,1212.8L1321.7,1212.7L1321.7,1222.8L1321.5,1222.9ZM1335.2,1203.4L1336.5,1202.4L1336.5,1212.6L1335.2,1213.6ZM1336.5,1202.4L1338.4,1200.9L1338.4,1211L1336.5,1212.6ZM1338.4,1200.9L1340.3,1199.3L1340.3,1209.5L1338.4,1211ZM1340.3,1199.3L1341.9,1197.9L1341.9,1208L1340.3,1209.5ZM1349.2,1189.6L1350.3,1188.1L1360.5,1188.1L1359.3,1189.6ZM1350.3,1188.1L1351.5,1186.4L1361.6,1186.4L1360.5,1188.1ZM1351.5,1186.4L1352.6,1184.7L1362.7,1184.7L1361.6,1186.4ZM1352.6,1184.7L1353.7,1183L1363.8,1183L1362.7,1184.7ZM1353.7,1183L1353.7,1182.9L1363.8,1182.9L1363.8,1183ZM1359.5,1169.4L1359.6,1169.1L1369.7,1169.1L1369.6,1169.4ZM1359.6,1169.1L1360,1167.3L1370.1,1167.3L1369.7,1169.1ZM1360,1167.3L1360.4,1165.6L1370.5,1165.6L1370.1,1167.3ZM1360.4,1165.6L1360.7,1163.8L1370.8,1163.8L1370.5,1165.6ZM1360.7,1163.8L1360.9,1162L1371.1,1162L1370.8,1163.8ZM1360.9,1162L1361.1,1160.2L1371.2,1160.2L1371.1,1162ZM1361.1,1160.2L1361.2,1158.5L1371.3,1158.5L1371.2,1160.2ZM1361.2,1158.5L1361.2,1156.7L1371.4,1156.7L1371.3,1158.5Z"/>
<path d="M1766.8,457.3L1766.8,454.8L1776.9,454.8L1777,457.3ZM1766.8,454.8L1766.7,452.3L1776.8,452.3L1776.9,454.8ZM1766.7,452.3L1766.5,449.9L1776.6,449.9L1776.8,452.3ZM1766.5,449.9L1766.2,447.4L1776.3,447.4L1776.6,449.9ZM1766.2,447.4L1765.9,444.9L1776,444.9L1776.3,447.4ZM1765.9,444.9L1765.4,442.5L1775.6,442.5L1776,444.9ZM1765.4,442.5L1764.9,440L1775.1,440L1775.6,442.5ZM1764.9,440L1764.4,437.5L1774.5,437.5L1775.1,440ZM1764.4,437.5L1763.7,435.1L1773.8,435.1L1774.5,437.5ZM1763.7,435.1L1763,432.6L1773.1,432.6L1773.8,435.1ZM1763,432.6L1762.2,430.2L1772.3,430.2L1773.1,432.6ZM1762.2,430.2L1761.3,427.8L1771.4,427.8L1772.3,430.2ZM1761.3,427.8L1760.3,425.4L1770.5,425.4L1771.4,427.8ZM1760.3,425.4L1759.3,422.9L1769.4,422.9L1770.5,425.4ZM1759.3,422.9L1758.2,420.5L1768.3,420.5L1769.4,422.9ZM1758.2,420.5L1757,418.2L1767.2,418.2L1768.3,420.5ZM1757,418.2L1755.8,415.8L1765.9,415.8L1767.2,418.2ZM1755.8,415.8L1754.4,413.4L1764.6,413.4L1765.9,415.8ZM1754.4,413.4L1753,411.1L1763.2,411.1L1764.6,413.4ZM1753,411.1L1751.6,408.7L1761.7,408.7L1763.2,411.1ZM1751.6,408.7L1750,406.4L1760.1,406.4L1761.7,408.7ZM1750,406.4L1748.4,404.1L1758.5,404.1L1760.1,406.4ZM1748.4,404.1L1747.8,403.3L1757.9,403.3L1758.5,404.1ZM1736.4,389.8L1735.1,388.5L1745.2,388.5L1746.5,389.8ZM1740.1,383.4L1738,381.2L1738,391.4L1740.1,393.5ZM1738,381.2L1735.7,379.1L1735.7,389.2L1738,391.4ZM1735.7,379.1L1734.7,378.2L1734.7,388.3L1735.7,389.2ZM1721.2,367L1720.9,366.8L1720.9,376.9L1721.2,377.2ZM1720.9,366.8L1718.2,364.8L1718.2,374.9L1720.9,376.9ZM1718.2,364.8L1715.5,362.9L1715.5,373L1718.2,374.9ZM1715.5,362.9L1714.5,362.2L1714.5,372.3L1715.5,373ZM1701,353.7L1700.8,353.6L1700.8,363.7L1701,363.8ZM1700.8,353.6L1697.7,351.8L1697.7,362L1700.8,363.7ZM1697.7,351.8L1694.6,350.1L1694.6,360.2L1697.7,362ZM1694.6,350.1L1691.4,348.4L1691.4,358.5L1694.6,360.2ZM1691.4,348.4L1688.1,346.7L1688.1,356.8L1691.4,358.5ZM1688.1,346.7L1684.8,345.1L1684.8,355.2L1688.1,356.8ZM1684.8,345.1L1681.4,343.5L1681.4,353.6L1684.8,355.2ZM1681.4,343.5L1678,341.9L1678,352L1681.4,353.6ZM1678,341.9L1674.5,340.3L1674.5,350.5L1678,352ZM1674.5,340.3L1671,338.8L1671,349L1674.5,350.5ZM1671,338.8L1667.5,337.4L1667.5,347.5L1671,349ZM1667.5,337.4L1663.9,335.9L1663.9,346L1667.5,347.5ZM1663.9,335.9L1660.2,334.5L1660.2,344.6L1663.9,346ZM1660.2,334.5L1656.6,333.1L1656.6,343.3L1660.2,344.6ZM1656.6,333.1L1652.8,331.8L1652.8,341.9L1656.6,343.3ZM1652.8,331.8L1649.1,330.5L1649.1,340.6L1652.8,341.9ZM1649.1,330.5L1647,329.8L1647,340L1649.1,340.6ZM1633.5,325.7L1629.6,324.6L1629.6,334.7L1633.5,335.8ZM1629.6,324.6L1626.7,323.8L1626.7,333.9L1629.6,334.7ZM1613.2,320.5L1609.4,319.7L1609.4,329.8L1613.2,330.6ZM1609.4,319.7L1606.4,319.1L1606.4,329.2L1609.4,329.8ZM1592.9,316.5L1592.7,316.4L1592.7,326.6L1592.9,326.6ZM1592.7,316.4L1588.4,315.7L1588.4,325.9L1592.7,326.6ZM1588.4,315.7L1584.2,315.1L1584.2,325.2L1588.4,325.9ZM1584.2,315.1L1579.9,314.5L1579.9,324.6L1584.2,325.2ZM1579.9,314.5L1575.6,313.9L1575.6,324L1579.9,324.6ZM1575.6,313.9L1571.3,313.3L1571.3,323.5L1575.6,324ZM1571.3,313.3L1566.9,312.8L1566.9,323L1571.3,323.5ZM1566.9,312.8L1562.6,312.4L1562.6,322.5L1566.9,323ZM1562.6,312.4L1558.2,312L1558.2,322.1L1562.6,322.5ZM1558.2,312L1553.9,311.6L1553.9,321.7L1558.2,322.1ZM1553.9,311.6L1549.5,311.3L1549.5,321.4L1553.9,321.7ZM1549.5,311.3L1545.1,311L1545.1,321.1L1549.5,321.4ZM1545.1,311L1540.7,310.8L1540.7,320.9L1545.1,321.1ZM1540.7,310.8L1538.9,310.7L1538.9,320.8L1540.7,320.9ZM1525.4,310.3L1523,310.3L1523,320.4L1525.4,320.4ZM1523,310.3L1518.7,310.2L1518.7,320.4L1523,320.4ZM1505.2,310.4L1500.9,310.6L1500.9,320.7L1505.2,320.6ZM1500.9,310.6L1498.4,310.7L1498.4,320.8L1500.9,320.7ZM1484.9,311.5L1483.3,311.6L1483.3,321.7L1484.9,321.6ZM1483.3,311.6L1479,312L1479,322.1L1483.3,321.7ZM1479,312L1474.6,312.4L1474.6,322.5L1479,322.1ZM1474.6,312.4L1470.3,312.8L1470.3,323L1474.6,322.5ZM1470.3,312.8L1465.9,313.3L1465.9,323.5L1470.3,323ZM1465.9,313.3L1461.6,313.9L1461.6,324L1465.9,323.5ZM1461.6,313.9L1457.3,314.5L1457.3,324.6L1461.6,324ZM1457.3,314.5L1453,315.1L1453,325.2L1457.3,324.6ZM1453,315.1L1448.8,315.7L1448.8,325.9L1453,325.2ZM1448.8,315.7L1444.5,316.4L1444.5,326.6L1448.8,325.9ZM1444.5,316.4L1440.3,317.2L1440.3,327.3L1444.5,326.6ZM1440.3,317.2L1436.1,318L1436.1,328.1L1440.3,327.3ZM1436.1,318L1432,318.8L1432,328.9L1436.1,328.1ZM1432,318.8L1430.9,319L1430.9,329.1L1432,328.9ZM1417.4,322.1L1415.6,322.5L1415.6,332.6L1417.4,332.2ZM1415.6,322.5L1411.6,323.5L1411.6,333.7L1415.6,332.6ZM1411.6,323.5L1410.7,323.8L1410.7,333.9L1411.6,333.7ZM1397.2,327.6L1395.8,328L1395.8,338.2L1397.2,337.8ZM1395.8,328L1392,329.3L1392,339.4L1395.8,338.2ZM1392,329.3L1390.4,329.8L1390.4,339.9L1392,339.4ZM1376.9,334.5L1373.3,335.9L1373.3,346L1376.9,344.7ZM1373.3,335.9L1369.7,337.4L1369.7,347.5L1373.3,346ZM1369.7,337.4L1366.2,338.8L1366.2,349L1369.7,347.5ZM1366.2,338.8L1362.7,340.3L1362.7,350.5L1366.2,349ZM1362.7,340.3L1359.2,341.9L1359.2,352L1362.7,350.5ZM1359.2,341.9L1355.8,343.5L1355.8,353.6L1359.2,352ZM1355.8,343.5L1352.4,345.1L1352.4,355.2L1355.8,353.6ZM1352.4,345.1L1349.1,346.7L1349.1,356.8L1352.4,355.2ZM1349.1,346.7L1345.8,348.4L1345.8,358.5L1349.1,356.8ZM1345.8,348.4L1342.6,350.1L1342.6,360.2L1345.8,358.5ZM1342.6,350.1L1339.5,351.8L1339.5,362L1342.6,360.2ZM1339.5,351.8L1336.4,353.6L1336.4,363.7L1339.5,362ZM1336.4,353.6L1333.3,355.4L1333.3,365.5L1336.4,363.7ZM1333.3,355.4L1330.4,357.2L1330.4,367.3L1333.3,365.5ZM1330.4,357.2L1327.4,359.1L1327.4,369.2L1330.4,367.3ZM1327.4,359.1L1324.6,361L1324.6,371.1L1327.4,369.2ZM1324.6,361L1322.9,362.1L1322.9,372.2L1324.6,371.1ZM1309.4,372.2L1308.6,372.8L1308.6,383L1309.4,382.3ZM1308.6,372.8L1306.2,374.9L1306.2,385L1308.6,383ZM1306.2,374.9L1303.8,377L1303.8,387.1L1306.2,385ZM1303.8,377L1302.6,378L1302.6,388.2L1303.8,387.1ZM1284.7,396.4L1284,397.3L1294.1,397.3L1294.9,396.4ZM1284,397.3L1282.1,399.5L1292.3,399.5L1294.1,397.3ZM1282.1,399.5L1280.4,401.8L1290.5,401.8L1292.3,399.5ZM1280.4,401.8L1279.4,403.1L1289.5,403.1L1290.5,401.8ZM1270.9,416.6L1270,418.2L1280.2,418.2L1281,416.6ZM1270,418.2L1268.9,420.5L1279,420.5L1280.2,418.2ZM1268.9,420.5L1267.8,422.9L1277.9,422.9L1279,420.5ZM1267.8,422.9L1266.7,425.4L1276.9,425.4L1277.9,422.9ZM1266.7,425.4L1265.8,427.8L1275.9,427.8L1276.9,425.4ZM1265.8,427.8L1264.9,430.2L1275,430.2L1275.9,427.8ZM1264.9,430.2L1264.1,432.6L1274.2,432.6L1275,430.2ZM1264.1,432.6L1263.4,435.1L1273.5,435.1L1274.2,432.6ZM1263.4,435.1L1262.7,437.5L1272.8,437.5L1273.5,435.1ZM1262.7,437.5L1262.1,440L1272.3,440L1272.8,437.5ZM1262.1,440L1261.6,442.5L1271.8,442.5L1272.3,440ZM1261.6,442.5L1261.2,444.9L1271.3,444.9L1271.8,442.5ZM1261.2,444.9L1260.9,447.4L1271,447.4L1271.3,444.9ZM1260.9,447.4L1260.6,449.9L1270.7,449.9L1271,447.4ZM1260.6,449.9L1260.4,452.3L1270.5,452.3L1270.7,449.9ZM1260.4,452.3L1260.3,454.8L1270.4,454.8L1270.5,452.3ZM1260.3,454.8L1260.2,457.3L1270.4,457.3L1270.4,454.8ZM1260.2,457.3L1260.3,459.8L1270.4,459.8L1270.4,457.3ZM1260.3,459.8L1260.4,462.3L1270.5,462.3L1270.4,459.8ZM1260.4,462.3L1260.6,464.7L1270.7,464.7L1270.5,462.3ZM1260.6,464.7L1260.9,467.2L1271,467.2L1270.7,464.7ZM1260.9,467.2L1261.2,469.7L1271.3,469.7L1271,467.2ZM1261.2,469.7L1261.4,470.6L1271.5,470.6L1271.3,469.7ZM1264.8,484.1L1264.9,484.4L1275,484.4L1274.9,484.1ZM1264.9,484.4L1265.8,486.8L1275.9,486.8L1275,484.4ZM1265.8,486.8L1266.7,489.2L1276.9,489.2L1275.9,486.8ZM1266.7,489.2L1267.4,490.9L1277.6,490.9L1276.9,489.2ZM1274.6,504.4L1275.5,505.9L1285.6,505.9L1284.7,504.4ZM1275.5,505.9L1277.1,508.2L1287.2,508.2L1285.6,505.9ZM1277.1,508.2L1278.7,510.5L1288.8,510.5L1287.2,508.2ZM1278.7,510.5L1279.2,511.1L1289.3,511.1L1288.8,510.5ZM1290.5,524.6L1292,526.1L1302.1,526.1L1300.7,524.6ZM1297.1,521.1L1299.2,523.2L1299.2,533.4L1297.1,531.2ZM1299.2,523.2L1301.5,525.4L1301.5,535.5L1299.2,533.4ZM1301.5,525.4L1303.8,527.5L1303.8,537.6L1301.5,535.5ZM1303.8,527.5L1306.2,529.6L1306.2,539.7L1303.8,537.6ZM1306.2,529.6L1308.6,531.6L1308.6,541.8L1306.2,539.7ZM1308.6,531.6L1311.1,533.7L1311.1,543.8L1308.6,541.8ZM1311.1,533.7L1313.7,535.7L1313.7,545.8L1311.1,543.8ZM1313.7,535.7L1316.3,537.7L1316.3,547.8L1313.7,545.8ZM1316.3,537.7L1319,539.7L1319,549.8L1316.3,547.8ZM1319,539.7L1321.7,541.6L1321.7,551.7L1319,549.8ZM1321.7,541.6L1324.6,543.5L1324.6,553.6L1321.7,551.7ZM1324.6,543.5L1327.4,545.4L1327.4,555.5L1324.6,553.6ZM1327.4,545.4L1330.4,547.3L1330.4,557.4L1327.4,555.5ZM1330.4,547.3L1333.3,549.1L1333.3,559.2L1330.4,557.4ZM1333.3,549.1L1336.4,550.9L1336.4,561L1333.3,559.2ZM1336.4,550.9L1339.5,552.6L1339.5,562.8L1336.4,561ZM1339.5,552.6L1342.6,554.4L1342.6,564.5L1339.5,562.8ZM1342.6,554.4L1345.8,556.1L1345.8,566.2L1342.6,564.5ZM1345.8,556.1L1349.1,557.8L1349.1,567.9L1345.8,566.2ZM1349.1,557.8L1349.6,558L1349.6,568.1L1349.1,567.9ZM1363.1,564.3L1366.2,565.6L1366.2,575.8L1363.1,574.4ZM1366.2,565.6L1369.7,567.1L1369.7,577.2L1366.2,575.8ZM1369.7,567.1L1369.8,567.2L1369.8,577.3L1369.7,577.2ZM1383.3,572.3L1384.4,572.7L1384.4,582.8L1383.3,582.4ZM1384.4,572.7L1388.1,574L1388.1,584.1L1384.4,582.8ZM1388.1,574L1390.1,574.6L1390.1,584.7L1388.1,584.1ZM1403.6,578.8L1403.6,578.8L1403.6,588.9L1403.6,588.9ZM1403.6,578.8L1407.6,579.9L1407.6,590L1403.6,588.9ZM1407.6,579.9L1411.6,580.9L1411.6,591.1L1407.6,590ZM1411.6,580.9L1415.6,582L1415.6,592.1L1411.6,591.1ZM1415.6,582L1419.6,582.9L1419.6,593.1L1415.6,592.1ZM1419.6,582.9L1423.7,583.9L1423.7,594L1419.6,593.1ZM1423.7,583.9L1427.8,584.8L1427.8,594.9L1423.7,594ZM1427.8,584.8L1432,585.7L1432,595.8L1427.8,594.9ZM1432,585.7L1436.1,586.5L1436.1,596.6L1432,595.8ZM1436.1,586.5L1440.3,587.3L1440.3,597.4L1436.1,596.6ZM1440.3,587.3L1444.5,588L1444.5,598.2L1440.3,597.4ZM1444.5,588L1448.8,588.7L1448.8,598.9L1444.5,598.2ZM1448.8,588.7L1453,589.4L1453,599.5L1448.8,598.9ZM1453,589.4L1457.3,590L1457.3,600.1L1453,599.5ZM1457.3,590L1457.6,590.1L1457.6,600.2L1457.3,600.1ZM1471.1,591.7L1474.6,592.1L1474.6,602.2L1471.1,601.8ZM1474.6,592.1L1477.8,592.4L1477.8,602.5L1474.6,602.2ZM1491.3,593.4L1492.1,593.5L1492.1,603.6L1491.3,603.5ZM1492.1,593.5L1496.5,593.7L1496.5,603.8L1492.1,603.6ZM1496.5,593.7L1498.1,593.8L1498.1,603.9L1496.5,603.8ZM1511.6,594.2L1514.2,594.2L1514.2,604.3L1511.6,604.3ZM1514.2,594.2L1518.6,594.2L1518.6,604.4L1514.2,604.3ZM1518.6,594.2L1523,594.2L1523,604.3L1518.6,604.4ZM1523,594.2L1527.4,594.2L1527.4,604.3L1523,604.3ZM1527.4,594.2L1531.9,594L1531.9,604.2L1527.4,604.3ZM1531.9,594L1536.3,593.9L1536.3,604L1531.9,604.2ZM1536.3,593.9L1540.7,593.7L1540.7,603.8L1536.3,604ZM1540.7,593.7L1545.1,593.5L1545.1,603.6L1540.7,603.8ZM1545.1,593.5L1549.5,593.2L1549.5,603.3L1545.1,603.6ZM1549.5,593.2L1553.9,592.9L1553.9,603L1549.5,603.3ZM1553.9,592.9L1558.2,592.5L1558.2,602.6L1553.9,603ZM1558.2,592.5L1562.6,592.1L1562.6,602.2L1558.2,602.6ZM1562.6,592.1L1565.6,591.8L1565.6,601.9L1562.6,602.2ZM1579.1,590.1L1579.9,590L1579.9,600.1L1579.1,600.2ZM1579.9,590L1584.2,589.4L1584.2,599.5L1579.9,600.1ZM1584.2,589.4L1585.9,589.1L1585.9,599.3L1584.2,599.5ZM1599.4,586.8L1601.1,586.5L1601.1,596.6L1599.4,596.9ZM1601.1,586.5L1605.2,585.7L1605.2,595.8L1601.1,596.6ZM1605.2,585.7L1606.1,585.5L1606.1,595.6L1605.2,595.8ZM1619.6,582.4L1621.6,582L1621.6,592.1L1619.6,592.6ZM1621.6,582L1625.6,580.9L1625.6,591.1L1621.6,592.1ZM1625.6,580.9L1629.6,579.9L1629.6,590L1625.6,591.1ZM1629.6,579.9L1633.6,578.8L1633.6,588.9L1629.6,590ZM1633.6,578.8L1637.5,577.6L1637.5,587.7L1633.6,588.9ZM1637.5,577.6L1641.4,576.4L1641.4,586.6L1637.5,587.7ZM1641.4,576.4L1645.2,575.2L1645.2,585.3L1641.4,586.6ZM1645.2,575.2L1649.1,574L1649.1,584.1L1645.2,585.3ZM1649.1,574L1652.8,572.7L1652.8,582.8L1649.1,584.1ZM1652.8,572.7L1656.6,571.3L1656.6,581.5L1652.8,582.8ZM1656.6,571.3L1660.2,570L1660.2,580.1L1656.6,581.5ZM1660.2,570L1663.9,568.6L1663.9,578.7L1660.2,580.1ZM1663.9,568.6L1667.5,567.1L1667.5,577.2L1663.9,578.7ZM1667.5,567.1L1671,565.6L1671,575.8L1667.5,577.2ZM1671,565.6L1673.6,564.5L1673.6,574.7L1671,575.8ZM1687.1,558.2L1688.1,557.8L1688.1,567.9L1687.1,568.4ZM1688.1,557.8L1691.4,556.1L1691.4,566.2L1688.1,567.9ZM1691.4,556.1L1693.9,554.7L1693.9,564.9L1691.4,566.2ZM1707.4,546.9L1709.8,545.4L1709.8,555.5L1707.4,557ZM1709.8,545.4L1712.6,543.5L1712.6,553.6L1709.8,555.5ZM1712.6,543.5L1714.1,542.5L1714.1,552.6L1712.6,553.6ZM1727.6,532.4L1728.6,531.6L1728.6,541.8L1727.6,542.5ZM1728.6,531.6L1731,529.6L1731,539.7L1728.6,541.8ZM1731,529.6L1733.4,527.5L1733.4,537.6L1731,539.7ZM1733.4,527.5L1735.7,525.4L1735.7,535.5L1733.4,537.6ZM1735.7,525.4L1738,523.2L1738,533.4L1735.7,535.5ZM1738,523.2L1740.1,521.1L1740.1,531.2L1738,533.4ZM1735.1,526.1L1737.2,524L1747.3,524L1745.2,526.1ZM1737.2,524L1739.2,521.8L1749.4,521.8L1747.3,524ZM1739.2,521.8L1741.2,519.5L1751.3,519.5L1749.4,521.8ZM1741.2,519.5L1743.1,517.3L1753.2,517.3L1751.3,519.5ZM1743.1,517.3L1744.9,515.1L1755.1,515.1L1753.2,517.3ZM1744.9,515.1L1746.7,512.8L1756.8,512.8L1755.1,515.1ZM1746.7,512.8L1748.4,510.5L1758.5,510.5L1756.8,512.8ZM1748.4,510.5L1750,508.2L1760.1,508.2L1758.5,510.5ZM1750,508.2L1751.6,505.9L1761.7,505.9L1760.1,508.2ZM1751.6,505.9L1753,503.5L1763.2,503.5L1761.7,505.9ZM1753,503.5L1754.4,501.2L1764.6,501.2L1763.2,503.5ZM1754.4,501.2L1755.8,498.8L1765.9,498.8L1764.6,501.2ZM1755.8,498.8L1757,496.4L1767.2,496.4L1765.9,498.8ZM1757,496.4L1758.2,494.1L1768.3,494.1L1767.2,496.4ZM1758.2,494.1L1759.3,491.7L1769.4,491.7L1768.3,494.1ZM1759.3,491.7L1760.3,489.2L1770.5,489.2L1769.4,491.7ZM1760.3,489.2L1761.3,486.8L1771.4,486.8L1770.5,489.2ZM1761.3,486.8L1762.1,484.6L1772.2,484.6L1771.4,486.8ZM1765.6,471.1L1765.9,469.7L1776,469.7L1775.7,471.1ZM1765.9,469.7L1766.2,467.2L1776.3,467.2L1776,469.7ZM1766.2,467.2L1766.5,464.7L1776.6,464.7L1776.3,467.2ZM1766.5,464.7L1766.5,464.4L1776.6,464.4L1776.6,464.7Z"/>
<path d="M1955.3,254.9L1955.3,253L1965.4,253L1965.5,254.9ZM1955.3,253L1955.3,251.1L1965.4,251.1L1965.4,253ZM1955.3,251.1L1955.2,249.2L1965.3,249.2L1965.4,251.1ZM1955.2,249.2L1955.1,247.4L1965.2,247.4L1965.3,249.2ZM1955.1,247.4L1954.9,245.5L1965.1,245.5L1965.2,247.4ZM1954.9,245.5L1954.7,243.6L1964.9,243.6L1965.1,245.5ZM1954.7,243.6L1954.5,241.7L1964.7,241.7L1964.9,243.6ZM1954.5,241.7L1954.3,239.9L1964.4,239.9L1964.7,241.7ZM1954.3,239.9L1954,238L1964.1,238L1964.4,239.9ZM1954,238L1953.7,236.1L1963.8,236.1L1964.1,238ZM1953.7,236.1L1953.4,234.3L1963.5,234.3L1963.8,236.1ZM1953.4,234.3L1953,232.4L1963.1,232.4L1963.5,234.3ZM1953,232.4L1952.6,230.6L1962.7,230.6L1963.1,232.4ZM1952.6,230.6L1952.1,228.8L1962.3,228.8L1962.7,230.6ZM1952.1,228.8L1951.7,226.9L1961.8,226.9L1962.3,228.8ZM1951.7,226.9L1951.2,225.1L1961.3,225.1L1961.8,226.9ZM1951.2,225.1L1950.6,223.3L1960.7,223.3L1961.3,225.1ZM1950.6,223.3L1950.1,221.5L1960.2,221.5L1960.7,223.3ZM1950.1,221.5L1949.5,219.7L1959.6,219.7L1960.2,221.5ZM1949.5,219.7L1948.8,218L1959,218L1959.6,219.7ZM1948.8,218L1948.2,216.2L1958.3,216.2L1959,218ZM1948.2,216.2L1947.5,214.4L1957.6,214.4L1958.3,216.2ZM1947.5,214.4L1946.8,212.7L1956.9,212.7L1957.6,214.4ZM1946.8,212.7L1946,211L1956.1,211L1956.9,212.7ZM1946,211L1945.2,209.3L1955.3,209.3L1956.1,211ZM1945.2,209.3L1944.4,207.6L1954.5,207.6L1955.3,209.3ZM1944.4,207.6L1943.6,205.9L1953.7,205.9L1954.5,207.6ZM1943.6,205.9L1942.7,204.2L1952.8,204.2L1953.7,205.9ZM1942.7,204.2L1941.8,202.5L1951.9,202.5L1952.8,204.2ZM1941.8,202.5L1940.9,200.9L1951,200.9L1951.9,202.5ZM1940.9,200.9L1940.9,200.9L1951,200.9L1951,200.9ZM1931.6,187.4L1931.3,186.9L1941.4,186.9L1941.8,187.4ZM1931.3,186.9L1930.1,185.5L1940.2,185.5L1941.4,186.9ZM1930.1,185.5L1928.8,184L1939,184L1940.2,185.5ZM1928.8,184L1927.6,182.6L1937.7,182.6L1939,184ZM1927.6,182.6L1926.3,181.2L1936.4,181.2L1937.7,182.6ZM1926.3,181.2L1925.7,180.6L1935.9,180.6L1936.4,181.2ZM1928.8,173.5L1927.4,172.1L1927.4,182.3L1928.8,183.6ZM1927.4,172.1L1926.1,170.9L1926.1,181L1927.4,182.3ZM1926.1,170.9L1924.9,169.8L1924.9,179.9L1926.1,181ZM1911.4,159.4L1911.2,159.3L1911.2,169.4L1911.4,169.5ZM1911.2,159.3L1909.6,158.2L1909.6,168.4L1911.2,169.4ZM1909.6,158.2L1908,157.3L1908,167.4L1909.6,168.4ZM1908,157.3L1906.4,156.3L1906.4,166.4L1908,167.4ZM1906.4,156.3L1904.8,155.4L1904.8,165.5L1906.4,166.4ZM1904.8,155.4L1904.6,155.3L1904.6,165.4L1904.8,165.5ZM1891.1,149L1891.1,149L1891.1,159.1L1891.1,159.1ZM1891.1,149L1889.3,148.3L1889.3,158.5L1891.1,159.1ZM1889.3,148.3L1887.6,147.7L1887.6,157.8L1889.3,158.5ZM1887.6,147.7L1885.8,147.1L1885.8,157.2L1887.6,157.8ZM1885.8,147.1L1884,146.6L1884,156.7L1885.8,157.2ZM1884,146.6L1882.2,146L1882.2,156.1L1884,156.7ZM1882.2,146L1880.4,145.5L1880.4,155.6L1882.2,156.1ZM1880.4,145.5L1878.5,145L1878.5,155.2L1880.4,155.6ZM1878.5,145L1876.7,144.6L1876.7,154.7L1878.5,155.2ZM1876.7,144.6L1874.9,144.2L1874.9,154.3L1876.7,154.7ZM1874.9,144.2L1873,143.8L1873,153.9L1874.9,154.3ZM1873,143.8L1871.2,143.5L1871.2,153.6L1873,153.9ZM1871.2,143.5L1869.3,143.2L1869.3,153.3L1871.2,153.6ZM1869.3,143.2L1867.4,142.9L1867.4,153L1869.3,153.3ZM1867.4,142.9L1865.6,142.6L1865.6,152.8L1867.4,153ZM1865.6,142.6L1863.7,142.4L1863.7,152.6L1865.6,152.8ZM1863.7,142.4L1861.8,142.2L1861.8,152.4L1863.7,152.6ZM1861.8,142.2L1859.9,142.1L1859.9,152.2L1861.8,152.4ZM1859.9,142.1L1858.1,142L1858.1,152.1L1859.9,152.2ZM1858.1,142L1856.2,141.9L1856.2,152L1858.1,152.1ZM1856.2,141.9L1854.3,141.9L1854.3,152L1856.2,152ZM1854.3,141.9L1852.4,141.8L1852.4,152L1854.3,152ZM1852.4,141.8L1850.5,141.9L1850.5,152L1852.4,152ZM1850.5,141.9L1848.6,141.9L1848.6,152L1850.5,152ZM1848.6,141.9L1846.7,142L1846.7,152.1L1848.6,152ZM1846.7,142L1844.9,142.1L1844.9,152.2L1846.7,152.1ZM1844.9,142.1L1843,142.2L1843,152.4L1844.9,152.2ZM1843,142.2L1841.1,142.4L1841.1,152.6L1843,152.4ZM1841.1,142.4L1839.2,142.6L1839.2,152.8L1841.1,152.6ZM1839.2,142.6L1837.4,142.9L1837.4,153L1839.2,152.8ZM1837.4,142.9L1837.1,142.9L1837.1,153.1L1837.4,153ZM1823.6,145.8L1822.6,146L1822.6,156.1L1823.6,155.9ZM1822.6,146L1820.8,146.6L1820.8,156.7L1822.6,156.1ZM1820.8,146.6L1819,147.1L1819,157.2L1820.8,156.7ZM1819,147.1L1817.2,147.7L1817.2,157.8L1819,157.2ZM1817.2,147.7L1816.9,147.9L1816.9,158L1817.2,157.8ZM1803.4,153.6L1801.7,154.5L1801.7,164.6L1803.4,163.7ZM1801.7,154.5L1800,155.4L1800,165.5L1801.7,164.6ZM1800,155.4L1798.4,156.3L1798.4,166.4L1800,165.5ZM1798.4,156.3L1796.8,157.3L1796.8,167.4L1798.4,166.4ZM1796.8,157.3L1796.6,157.4L1796.6,167.5L1796.8,167.4ZM1783.1,167L1783,167.1L1783,177.2L1783.1,177.1ZM1783,167.1L1781.5,168.3L1781.5,178.5L1783,177.2ZM1781.5,168.3L1780.1,169.6L1780.1,179.7L1781.5,178.5ZM1780.1,169.6L1778.7,170.9L1778.7,181L1780.1,179.7ZM1778.7,170.9L1777.4,172.1L1777.4,182.3L1778.7,181ZM1777.4,172.1L1776,173.5L1776,183.6L1777.4,182.3ZM1771,178.5L1769.6,179.9L1779.8,179.9L1781.1,178.5ZM1769.6,179.9L1768.4,181.2L1778.5,181.2L1779.8,179.9ZM1768.4,181.2L1767.1,182.6L1777.2,182.6L1778.5,181.2ZM1767.1,182.6L1765.8,184L1776,184L1777.2,182.6ZM1765.8,184L1764.6,185.5L1774.7,185.5L1776,184ZM1764.6,185.5L1763.4,186.9L1773.5,186.9L1774.7,185.5ZM1763.4,186.9L1762.2,188.4L1772.4,188.4L1773.5,186.9ZM1762.2,188.4L1761.1,189.9L1771.2,189.9L1772.4,188.4ZM1761.1,189.9L1760,191.4L1770.1,191.4L1771.2,189.9ZM1760,191.4L1758.9,193L1769,193L1770.1,191.4ZM1758.9,193L1757.8,194.5L1767.9,194.5L1769,193ZM1757.8,194.5L1756.8,196.1L1766.9,196.1L1767.9,194.5ZM1756.8,196.1L1755.7,197.7L1765.9,197.7L1766.9,196.1ZM1755.7,197.7L1754.8,199.3L1764.9,199.3L1765.9,197.7ZM1754.8,199.3L1753.8,200.9L1763.9,200.9L1764.9,199.3ZM1753.8,200.9L1752.9,202.5L1763,202.5L1763.9,200.9ZM1752.9,202.5L1752,204.2L1762.1,204.2L1763,202.5ZM1752,204.2L1751.1,205.9L1761.2,205.9L1762.1,204.2ZM1751.1,205.9L1750.3,207.6L1760.4,207.6L1761.2,205.9ZM1750.3,207.6L1749.5,209.3L1759.6,209.3L1760.4,207.6ZM1749.5,209.3L1748.7,211L1758.8,211L1759.6,209.3ZM1748.7,211L1747.9,212.7L1758,212.7L1758.8,211ZM1747.9,212.7L1747.2,214.4L1757.3,214.4L1758,212.7ZM1747.2,214.4L1746.5,216.2L1756.6,216.2L1757.3,214.4ZM1746.5,216.2L1745.8,218L1756,218L1756.6,216.2ZM1745.8,218L1745.2,219.7L1755.3,219.7L1756,218ZM1745.2,219.7L1744.6,221.5L1754.7,221.5L1755.3,219.7ZM1744.6,221.5L1744.1,223.3L1754.2,223.3L1754.7,221.5ZM1744.1,223.3L1743.5,225.1L1753.6,225.1L1754.2,223.3ZM1743.5,225.1L1743.2,226.2L1753.4,226.2L1753.6,225.1ZM1740.4,239.7L1740.4,239.9L1750.5,239.9L1750.5,239.7ZM1740.4,239.9L1740.1,241.7L1750.3,241.7L1750.5,239.9ZM1740.1,241.7L1739.9,243.6L1750.1,243.6L1750.3,241.7ZM1739.9,243.6L1739.7,245.5L1749.9,245.5L1750.1,243.6ZM1739.7,245.5L1739.7,246.4L1749.8,246.4L1749.9,245.5ZM1739.5,259.9L1739.5,260.6L1749.6,260.6L1749.6,259.9ZM1739.5,260.6L1739.6,262.4L1749.7,262.4L1749.6,260.6ZM1739.6,262.4L1739.7,264.3L1749.9,264.3L1749.7,262.4ZM1739.7,264.3L1739.9,266.2L1750.1,266.2L1749.9,264.3ZM1739.9,266.2L1740,266.7L1750.1,266.7L1750.1,266.2ZM1742.3,280.2L1742.5,281L1752.7,281L1752.5,280.2ZM1742.5,281L1743,282.9L1753.1,282.9L1752.7,281ZM1743,282.9L1743.5,284.7L1753.6,284.7L1753.1,282.9ZM1743.5,284.7L1744.1,286.5L1754.2,286.5L1753.6,284.7ZM1744.1,286.5L1744.6,288.3L1754.7,288.3L1754.2,286.5ZM1744.6,288.3L1745.2,290.1L1755.3,290.1L1754.7,288.3ZM1745.2,290.1L1745.8,291.8L1756,291.8L1755.3,290.1ZM1745.8,291.8L1746.5,293.6L1756.6,293.6L1756,291.8ZM1746.5,293.6L1747.2,295.4L1757.3,295.4L1756.6,293.6ZM1747.2,295.4L1747.9,297.1L1758,297.1L1757.3,295.4ZM1747.9,297.1L1748.7,298.8L1758.8,298.8L1758,297.1ZM1748.7,298.8L1749.5,300.5L1759.6,300.5L1758.8,298.8ZM1749.5,300.5L1750.3,302.2L1760.4,302.2L1759.6,300.5ZM1750.3,302.2L1751.1,303.9L1761.2,303.9L1760.4,302.2ZM1751.1,303.9L1752,305.6L1762.1,305.6L1761.2,303.9ZM1752,305.6L1752.9,307.3L1763,307.3L1762.1,305.6ZM1752.9,307.3L1753.8,308.9L1763.9,308.9L1763,307.3ZM1753.8,308.9L1754.8,310.5L1764.9,310.5L1763.9,308.9ZM1754.8,310.5L1755.7,312.1L1765.9,312.1L1764.9,310.5ZM1755.7,312.1L1756.8,313.7L1766.9,313.7L1765.9,312.1ZM1756.8,313.7L1757.8,315.3L1767.9,315.3L1766.9,313.7ZM1757.8,315.3L1758.9,316.8L1769,316.8L1767.9,315.3ZM1758.9,316.8L1760,318.4L1770.1,318.4L1769,316.8ZM1760,318.4L1761.1,319.9L1771.2,319.9L1770.1,318.4ZM1761.1,319.9L1762.2,321.4L1772.4,321.4L1771.2,319.9ZM1762.2,321.4L1763.4,322.9L1773.5,322.9L1772.4,321.4ZM1763.4,322.9L1764.6,324.3L1774.7,324.3L1773.5,322.9ZM1764.6,324.3L1765.8,325.8L1776,325.8L1774.7,324.3ZM1765.8,325.8L1767.1,327.2L1777.2,327.2L1776,325.8ZM1767.1,327.2L1768.4,328.6L1778.5,328.6L1777.2,327.2ZM1768.4,328.6L1769.6,329.9L1779.8,329.9L1778.5,328.6ZM1769.6,329.9L1771,331.3L1781.1,331.3L1779.8,329.9ZM1776,326.2L1777.4,327.5L1777.4,337.7L1776,336.3ZM1777.4,327.5L1778.7,328.8L1778.7,338.9L1777.4,337.7ZM1778.7,328.8L1780.1,330.1L1780.1,340.2L1778.7,338.9ZM1780.1,330.1L1781,330.8L1781,341L1780.1,340.2ZM1794.5,341L1795.2,341.4L1795.2,351.6L1794.5,351.1ZM1795.2,341.4L1796.8,342.4L1796.8,352.5L1795.2,351.6ZM1796.8,342.4L1798.4,343.4L1798.4,353.5L1796.8,352.5ZM1798.4,343.4L1800,344.3L1800,354.4L1798.4,353.5ZM1800,344.3L1801.2,344.9L1801.2,355.1L1800,354.4ZM1814.7,351L1815.5,351.3L1815.5,361.5L1814.7,361.2ZM1815.5,351.3L1817.2,352L1817.2,362.1L1815.5,361.5ZM1817.2,352L1819,352.6L1819,362.7L1817.2,362.1ZM1819,352.6L1820.8,353.1L1820.8,363.2L1819,362.7ZM1820.8,353.1L1821.5,353.3L1821.5,363.4L1820.8,363.2ZM1835,356.4L1835.5,356.5L1835.5,366.6L1835,366.5ZM1835.5,356.5L1837.4,356.8L1837.4,366.9L1835.5,366.6ZM1837.4,356.8L1839.2,357L1839.2,367.2L1837.4,366.9ZM1839.2,357L1841.1,357.2L1841.1,367.4L1839.2,367.2ZM1841.1,357.2L1843,357.4L1843,367.6L1841.1,367.4ZM1843,357.4L1844.9,357.6L1844.9,367.7L1843,367.6ZM1844.9,357.6L1846.7,357.7L1846.7,367.8L1844.9,367.7ZM1846.7,357.7L1848.6,357.8L1848.6,367.9L1846.7,367.8ZM1848.6,357.8L1850.5,357.8L1850.5,367.9L1848.6,367.9ZM1850.5,357.8L1852.4,357.8L1852.4,368L1850.5,367.9ZM1852.4,357.8L1854.3,357.8L1854.3,367.9L1852.4,368ZM1854.3,357.8L1856.2,357.8L1856.2,367.9L1854.3,367.9ZM1856.2,357.8L1858.1,357.7L1858.1,367.8L1856.2,367.9ZM1858.1,357.7L1859.9,357.6L1859.9,367.7L1858.1,367.8ZM1859.9,357.6L1861.8,357.4L1861.8,367.6L1859.9,367.7ZM1861.8,357.4L1863.7,357.2L1863.7,367.4L1861.8,367.6ZM1863.7,357.2L1865.6,357L1865.6,367.2L1863.7,367.4ZM1865.6,357L1867.4,356.8L1867.4,366.9L1865.6,367.2ZM1867.4,356.8L1869.3,356.5L1869.3,366.6L1867.4,366.9ZM1869.3,356.5L1871.2,356.2L1871.2,366.3L1869.3,366.6ZM1871.2,356.2L1873,355.9L1873,366L1871.2,366.3ZM1873,355.9L1874.9,355.5L1874.9,365.6L1873,366ZM1874.9,355.5L1876.7,355.1L1876.7,365.2L1874.9,365.6ZM1876.7,355.1L1878.5,354.6L1878.5,364.8L1876.7,365.2ZM1878.5,354.6L1880.4,354.2L1880.4,364.3L1878.5,364.8ZM1880.4,354.2L1882.2,353.7L1882.2,363.8L1880.4,364.3ZM1882.2,353.7L1884,353.1L1884,363.2L1882.2,363.8ZM1884,353.1L1885.8,352.6L1885.8,362.7L1884,363.2ZM1885.8,352.6L1887.6,352L1887.6,362.1L1885.8,362.7ZM1887.6,352L1889.3,351.3L1889.3,361.5L1887.6,362.1ZM1889.3,351.3L1891.1,350.7L1891.1,360.8L1889.3,361.5ZM1891.1,350.7L1891.3,350.6L1891.3,360.7L1891.1,360.8ZM1904.8,344.3L1906.4,343.4L1906.4,353.5L1904.8,354.4ZM1906.4,343.4L1908,342.4L1908,352.5L1906.4,353.5ZM1908,342.4L1909.6,341.4L1909.6,351.6L1908,352.5ZM1909.6,341.4L1911.2,340.4L1911.2,350.5L1909.6,351.6ZM1911.2,340.4L1911.5,340.2L1911.5,350.3L1911.2,350.5ZM1925,329.8L1926.1,328.8L1926.1,338.9L1925,339.9ZM1926.1,328.8L1927.4,327.5L1927.4,337.7L1926.1,338.9ZM1927.4,327.5L1928.8,326.2L1928.8,336.3L1927.4,337.7ZM1926.4,328.5L1927.6,327.2L1937.7,327.2L1936.5,328.5ZM1927.6,327.2L1928.8,325.8L1939,325.8L1937.7,327.2ZM1928.8,325.8L1930.1,324.3L1940.2,324.3L1939,325.8ZM1930.1,324.3L1931.3,322.9L1941.4,322.9L1940.2,324.3ZM1931.3,322.9L1932.2,321.7L1942.3,321.7L1941.4,322.9ZM1941.2,308.2L1941.8,307.3L1951.9,307.3L1951.4,308.2ZM1941.8,307.3L1942.7,305.6L1952.8,305.6L1951.9,307.3ZM1942.7,305.6L1943.6,303.9L1953.7,303.9L1952.8,305.6ZM1943.6,303.9L1944.4,302.2L1954.5,302.2L1953.7,303.9ZM1944.4,302.2L1945.2,300.5L1955.3,300.5L1954.5,302.2ZM1945.2,300.5L1946,298.8L1956.1,298.8L1955.3,300.5ZM1946,298.8L1946.8,297.1L1956.9,297.1L1956.1,298.8ZM1946.8,297.1L1947.5,295.4L1957.6,295.4L1956.9,297.1ZM1947.5,295.4L1948.2,293.6L1958.3,293.6L1957.6,295.4ZM1948.2,293.6L1948.8,291.8L1959,291.8L1958.3,293.6ZM1948.8,291.8L1949.5,290.1L1959.6,290.1L1959,291.8ZM1949.5,290.1L1950.1,288.3L1960.2,288.3L1959.6,290.1ZM1950.1,288.3L1950.6,286.5L1960.7,286.5L1960.2,288.3ZM1950.6,286.5L1951.2,284.7L1961.3,284.7L1960.7,286.5ZM1951.2,284.7L1951.7,282.9L1961.8,282.9L1961.3,284.7ZM1951.7,282.9L1952.1,281L1962.3,281L1961.8,282.9ZM1952.1,281L1952.6,279.2L1962.7,279.2L1962.3,281ZM1952.6,279.2L1953,277.4L1963.1,277.4L1962.7,279.2ZM1953,277.4L1953.4,275.5L1963.5,275.5L1963.1,277.4ZM1953.4,275.5L1953.7,273.7L1963.8,273.7L1963.5,275.5ZM1953.7,273.7L1954,271.8L1964.1,271.8L1963.8,273.7ZM1954,271.8L1954.3,269.9L1964.4,269.9L1964.1,271.8ZM1954.3,269.9L1954.5,268.1L1964.7,268.1L1964.4,269.9ZM1954.5,268.1L1954.7,266.2L1964.9,266.2L1964.7,268.1ZM1954.7,266.2L1954.9,264.3L1965.1,264.3L1964.9,266.2ZM1954.9,264.3L1955.1,262.4L1965.2,262.4L1965.1,264.3ZM1955.1,262.4L1955.2,260.6L1965.3,260.6L1965.2,262.4ZM1955.2,260.6L1955.3,258.7L1965.4,258.7L1965.3,260.6ZM1955.3,258.7L1955.3,256.8L1965.4,256.8L1965.4,258.7ZM1955.3,256.8L1955.3,254.9L1965.5,254.9L1965.4,256.8Z"/>
</g>
<g>
<rect x="926" y="1357.4" width="54" height="10.1" fill="#cc0000"/>
<rect x="1034" y="1357.4" width="54" height="10.1" fill="#cc0000"/>
<rect x="1142" y="1357.4" width="54" height="10.1" fill="#cc0000"/>
<rect x="926" y="1427.9" width="307" height="10.1" fill="#cc0000"/>
<rect x="926" y="1495.9" width="54" height="10.1" fill="#3333ff"/>
<rect x="1034" y="1495.9" width="54" height="10.1" fill="#3333ff"/>
<rect x="1142" y="1495.9" width="54" height="10.1" fill="#3333ff"/>
<rect x="926" y="1563.5" width="307" height="10.1" fill="#3333ff"/>
<rect x="926" y="1631.2" width="54" height="10.1" fill="#00cc00"/>
<rect x="1034" y="1631.2" width="54" height="10.1" fill="#00cc00"/>
<rect x="1142" y="1631.2" width="54" height="10.1" fill="#00cc00"/>
<rect x="926" y="1701.7" width="307" height="10.1" fill="#00cc00"/>
</g>
<g class="t b">
<text x="1285.5" y="1384.8" textLength="739.5" lengthAdjust="spacing">NACA 64A010 (Foil2w)</text>
<text x="1285.5" y="1455.3" textLength="823.5" lengthAdjust="spacing">NACA 64A010 (MaPFlow)</text>
<text x="1288.3" y="1523.3" textLength="418.5" lengthAdjust="spacing">PSO (Foil2w)</text>
<text x="1288.3" y="1590.9" textLength="503" lengthAdjust="spacing">PSO (MaPFlow)</text>
<text x="1288.3" y="1658.6" textLength="365.5" lengthAdjust="spacing">ES (Foil2w)</text>
<text x="1288.3" y="1729.1" textLength="449.5" lengthAdjust="spacing">ES (MaPFlow)</text>
</g>
<g class="t" text-anchor="end">
<text x="235" y="1836.3">0</text>
<text x="235" y="1512.1">0.5</text>
<text x="235" y="1187.9">1</text>
<text x="235" y="860.2">1.5</text>
<text x="235" y="536">2</text>
<text x="235" y="211.8">2.5</text>
</g>
<g class="t" text-anchor="middle">
<text x="261.3" y="1884">0</text>
<text x="676.9" y="1884">5</text>
<text x="1098.9" y="1884">10</text>
<text x="1514" y="1884">15</text>
<text x="1933.7" y="1884">20</text>
</g>
<g class="b" font-size="83">
<text x="1087.5" y="1962" textLength="163" lengthAdjust="spacing">AoA</text>
<g font-weight="normal" stroke="#000" stroke-width="2.2" stroke-linejoin="round">
<text x="1277" y="1962">(</text>
<text x="1328.5" y="1962">)</text>
</g>
<g font-weight="normal" transform="translate(1325.5 1962) scale(1.45 1.1)"><text x="0" y="-3.5" text-anchor="middle">&#176;</text></g>
</g>
<g transform="translate(108 991.5) rotate(-90) scale(0.94 1)"><text class="b" font-size="108" x="0" y="0">C</text></g>
<g transform="translate(139.8 916.5) rotate(-90) scale(0.98 1)"><text class="b" font-size="68" x="0" y="0">L</text></g>
</svg></body></html>
